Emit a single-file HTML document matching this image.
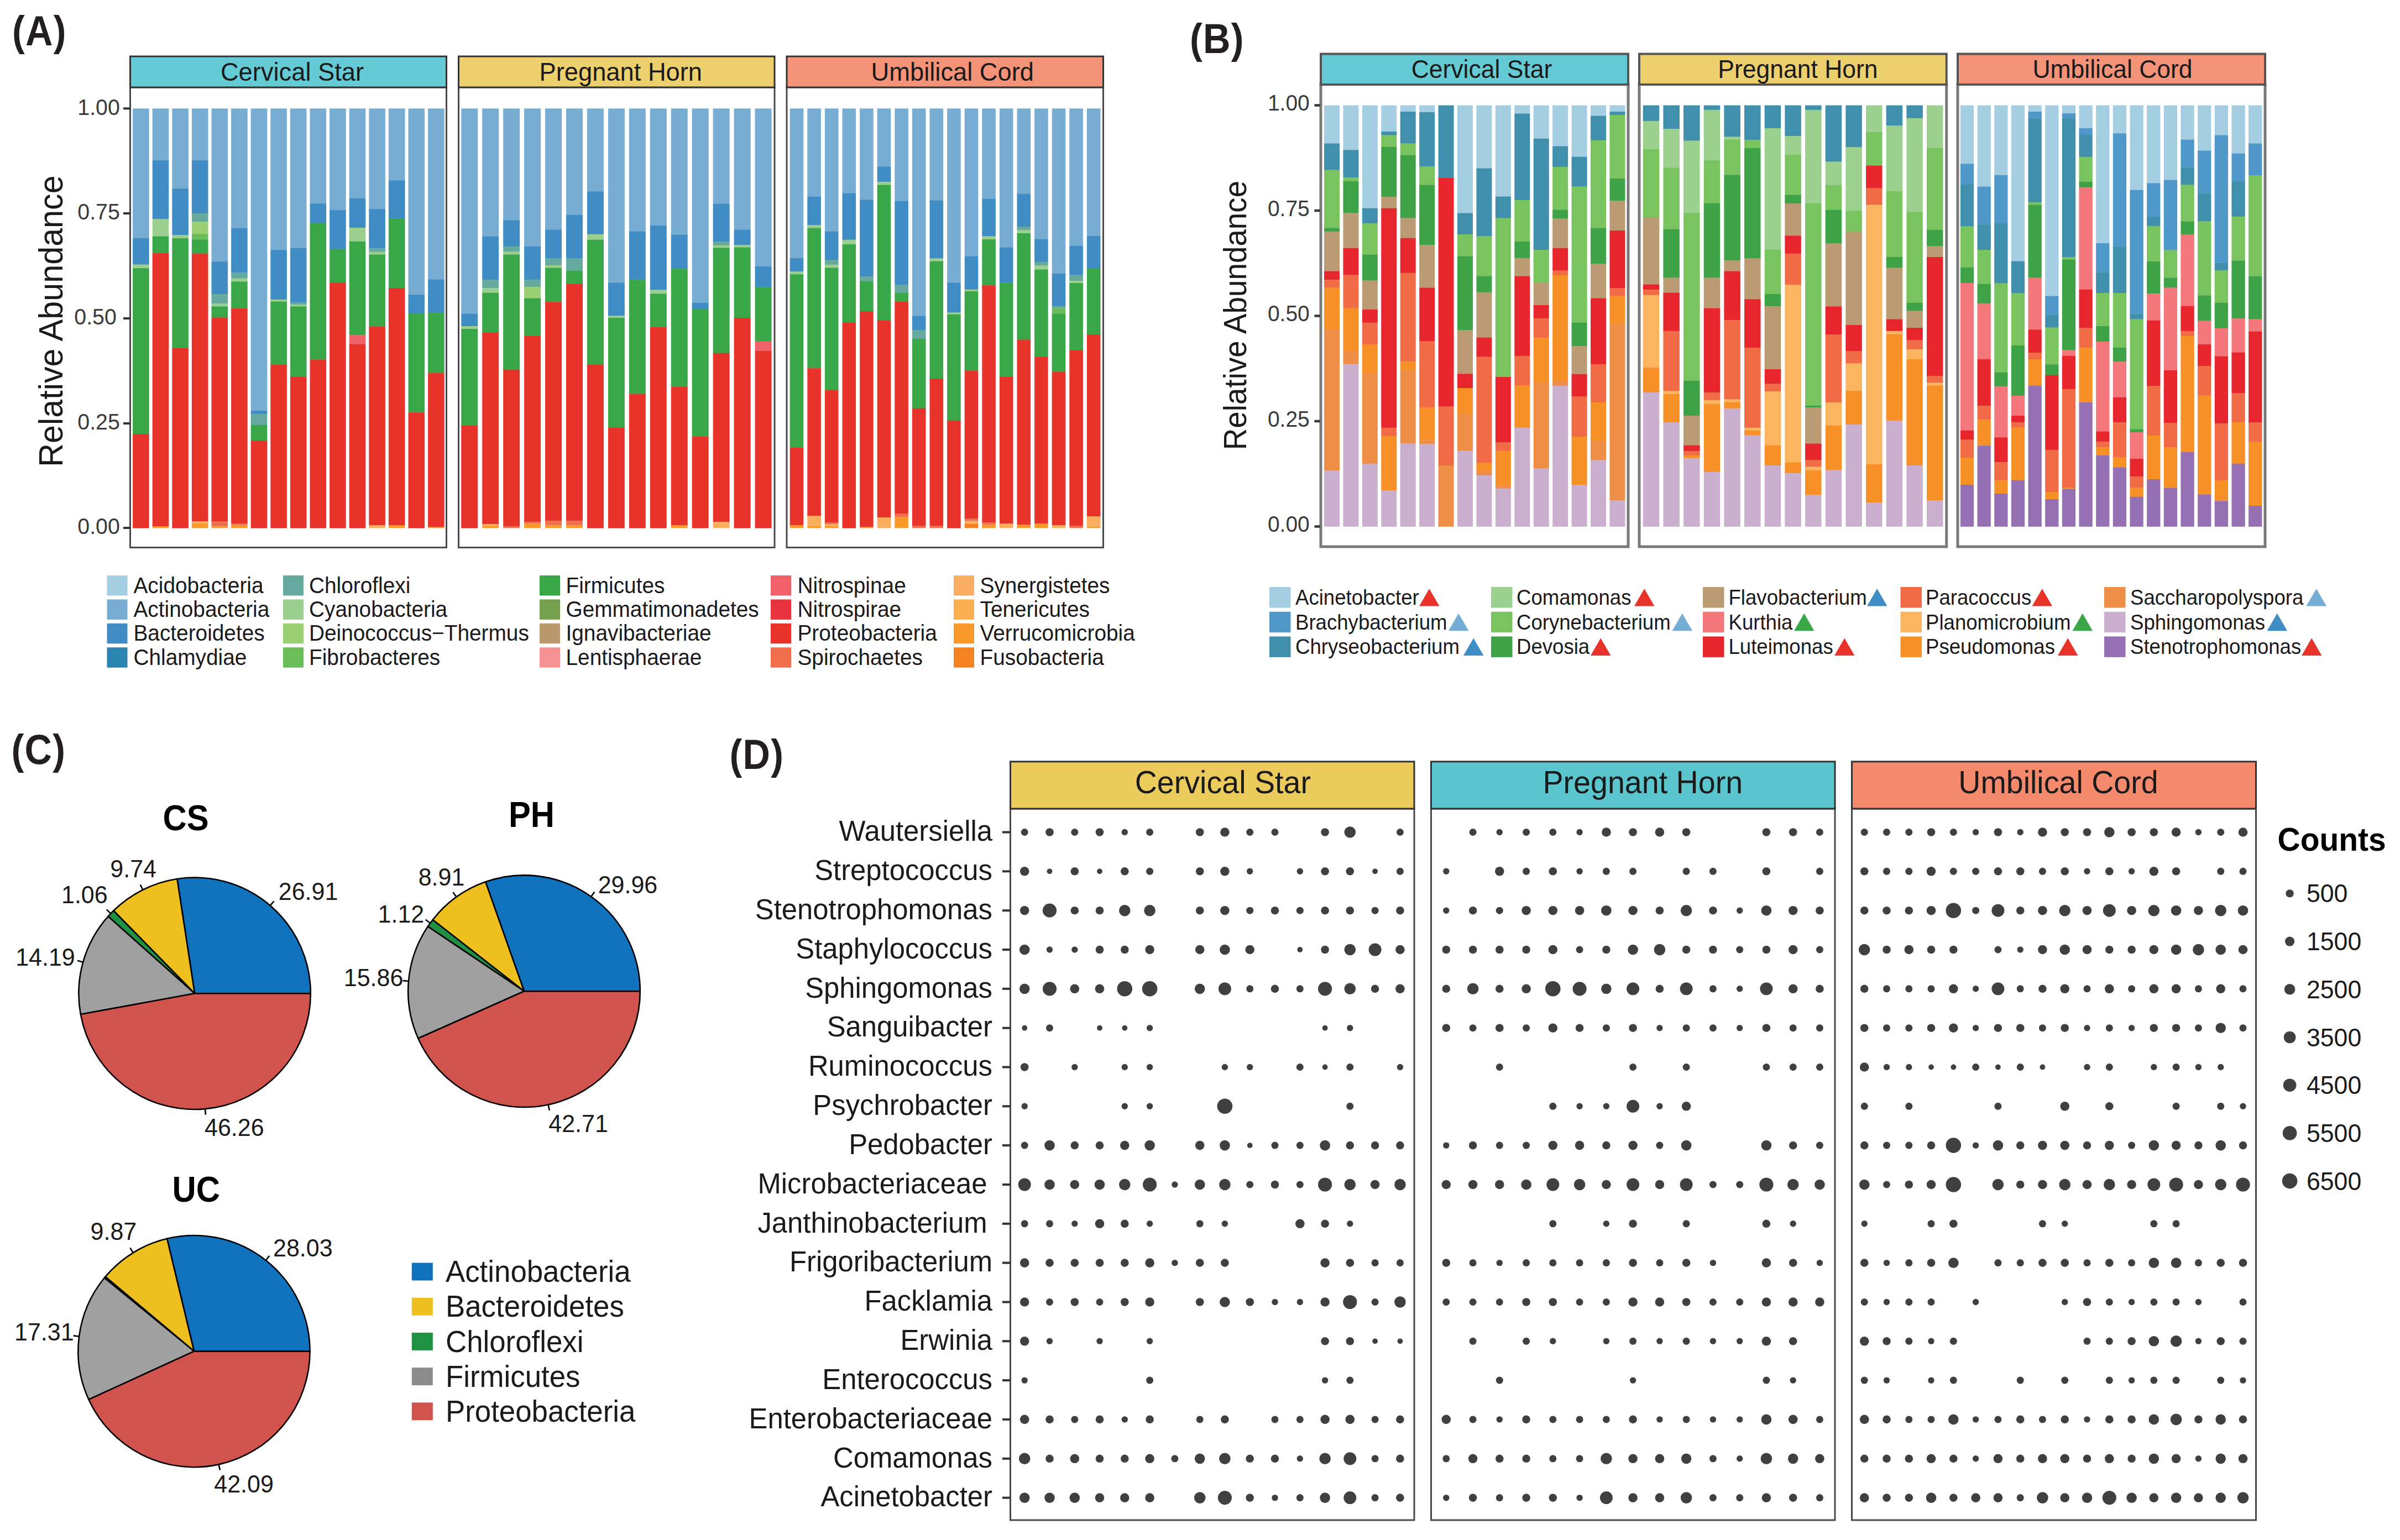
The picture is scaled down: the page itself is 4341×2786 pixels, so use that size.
<!DOCTYPE html>
<html><head><meta charset="utf-8"><title>Figure</title>
<style>html,body{margin:0;padding:0;background:#fff}svg{display:block}</style></head>
<body>
<svg width="4341" height="2786" viewBox="0 0 4341 2786" font-family="'Liberation Sans', sans-serif">
<rect width="4341" height="2786" fill="#ffffff"/>
<text transform="translate(22,81.7)  scale(0.9,1)" font-size="76" letter-spacing="1.5" font-weight="bold" fill="#231f20">(A)</text>
<rect x="240.10" y="196.30" width="29.60" height="234.60" fill="#77ADD2"/>
<rect x="240.10" y="430.60" width="29.60" height="48.30" fill="#3F8DC4"/>
<rect x="240.10" y="478.60" width="29.60" height="6.80" fill="#9BCF90"/>
<rect x="240.10" y="485.10" width="29.60" height="300.20" fill="#39A648"/>
<rect x="240.10" y="785.00" width="29.60" height="170.60" fill="#E7332A"/>
<rect x="275.70" y="196.30" width="29.60" height="94.10" fill="#77ADD2"/>
<rect x="275.70" y="290.10" width="29.60" height="106.55" fill="#3F8DC4"/>
<rect x="275.70" y="396.35" width="29.60" height="31.55" fill="#9BCF90"/>
<rect x="275.70" y="427.60" width="29.60" height="30.80" fill="#39A648"/>
<rect x="275.70" y="458.10" width="29.60" height="494.50" fill="#E7332A"/>
<rect x="275.70" y="952.30" width="29.60" height="3.00" fill="#F8992A"/>
<rect x="311.30" y="196.30" width="29.60" height="145.10" fill="#77ADD2"/>
<rect x="311.30" y="341.10" width="29.60" height="84.30" fill="#3F8DC4"/>
<rect x="311.30" y="425.10" width="29.60" height="6.30" fill="#9BCF90"/>
<rect x="311.30" y="431.10" width="29.60" height="198.45" fill="#39A648"/>
<rect x="311.30" y="629.25" width="29.60" height="326.35" fill="#E7332A"/>
<rect x="346.90" y="196.30" width="29.60" height="94.10" fill="#77ADD2"/>
<rect x="346.90" y="290.10" width="29.60" height="96.30" fill="#3F8DC4"/>
<rect x="346.90" y="386.10" width="29.60" height="15.30" fill="#66A99F"/>
<rect x="346.90" y="401.10" width="29.60" height="22.30" fill="#9ACF72"/>
<rect x="346.90" y="423.10" width="29.60" height="10.80" fill="#6ABD58"/>
<rect x="346.90" y="433.60" width="29.60" height="25.30" fill="#39A648"/>
<rect x="346.90" y="458.60" width="29.60" height="485.00" fill="#E7332A"/>
<rect x="346.90" y="946.30" width="29.60" height="9.00" fill="#F8992A"/>
<rect x="346.90" y="943.30" width="29.60" height="3.00" fill="#FBAE5E"/>
<rect x="382.50" y="196.30" width="29.60" height="277.10" fill="#77ADD2"/>
<rect x="382.50" y="473.10" width="29.60" height="59.05" fill="#3F8DC4"/>
<rect x="382.50" y="531.85" width="29.60" height="17.80" fill="#66A99F"/>
<rect x="382.50" y="549.35" width="29.60" height="5.30" fill="#9BCF90"/>
<rect x="382.50" y="554.35" width="29.60" height="20.45" fill="#39A648"/>
<rect x="382.50" y="574.50" width="29.60" height="369.10" fill="#E7332A"/>
<rect x="382.50" y="952.30" width="29.60" height="3.00" fill="#F8992A"/>
<rect x="382.50" y="943.30" width="29.60" height="9.00" fill="#F26F4D"/>
<rect x="418.10" y="196.30" width="29.60" height="216.60" fill="#77ADD2"/>
<rect x="418.10" y="412.60" width="29.60" height="80.80" fill="#3F8DC4"/>
<rect x="418.10" y="493.10" width="29.60" height="10.80" fill="#66A99F"/>
<rect x="418.10" y="503.60" width="29.60" height="6.05" fill="#9BCF90"/>
<rect x="418.10" y="509.35" width="29.60" height="49.05" fill="#39A648"/>
<rect x="418.10" y="558.10" width="29.60" height="389.50" fill="#E7332A"/>
<rect x="418.10" y="950.30" width="29.60" height="5.00" fill="#F8992A"/>
<rect x="418.10" y="947.30" width="29.60" height="3.00" fill="#F26F4D"/>
<rect x="453.70" y="196.30" width="29.60" height="547.00" fill="#77ADD2"/>
<rect x="453.70" y="743.00" width="29.60" height="6.05" fill="#3F8DC4"/>
<rect x="453.70" y="748.75" width="29.60" height="20.30" fill="#66A99F"/>
<rect x="453.70" y="768.75" width="29.60" height="28.55" fill="#39A648"/>
<rect x="453.70" y="797.00" width="29.60" height="158.60" fill="#E7332A"/>
<rect x="489.30" y="196.30" width="29.60" height="256.10" fill="#77ADD2"/>
<rect x="489.30" y="452.10" width="29.60" height="90.05" fill="#3F8DC4"/>
<rect x="489.30" y="541.85" width="29.60" height="4.05" fill="#9BCF90"/>
<rect x="489.30" y="545.60" width="29.60" height="114.20" fill="#39A648"/>
<rect x="489.30" y="659.50" width="29.60" height="296.10" fill="#E7332A"/>
<rect x="524.90" y="196.30" width="29.60" height="252.60" fill="#77ADD2"/>
<rect x="524.90" y="448.60" width="29.60" height="98.55" fill="#3F8DC4"/>
<rect x="524.90" y="546.85" width="29.60" height="4.55" fill="#66A99F"/>
<rect x="524.90" y="551.10" width="29.60" height="3.55" fill="#9BCF90"/>
<rect x="524.90" y="554.35" width="29.60" height="127.20" fill="#39A648"/>
<rect x="524.90" y="681.25" width="29.60" height="274.35" fill="#E7332A"/>
<rect x="560.50" y="196.30" width="29.60" height="172.10" fill="#77ADD2"/>
<rect x="560.50" y="368.10" width="29.60" height="35.30" fill="#3F8DC4"/>
<rect x="560.50" y="403.10" width="29.60" height="247.70" fill="#39A648"/>
<rect x="560.50" y="650.50" width="29.60" height="305.10" fill="#E7332A"/>
<rect x="596.10" y="196.30" width="29.60" height="184.10" fill="#77ADD2"/>
<rect x="596.10" y="380.10" width="29.60" height="70.80" fill="#3F8DC4"/>
<rect x="596.10" y="450.60" width="29.60" height="61.55" fill="#39A648"/>
<rect x="596.10" y="511.85" width="29.60" height="443.75" fill="#E7332A"/>
<rect x="631.70" y="196.30" width="29.60" height="162.85" fill="#77ADD2"/>
<rect x="631.70" y="358.85" width="29.60" height="53.30" fill="#3F8DC4"/>
<rect x="631.70" y="411.85" width="29.60" height="25.30" fill="#9BCF90"/>
<rect x="631.70" y="436.85" width="29.60" height="169.70" fill="#39A648"/>
<rect x="631.70" y="606.25" width="29.60" height="16.55" fill="#F0616A"/>
<rect x="631.70" y="622.50" width="29.60" height="333.10" fill="#E7332A"/>
<rect x="667.30" y="196.30" width="29.60" height="182.10" fill="#77ADD2"/>
<rect x="667.30" y="378.10" width="29.60" height="71.55" fill="#3F8DC4"/>
<rect x="667.30" y="449.35" width="29.60" height="6.55" fill="#66A99F"/>
<rect x="667.30" y="455.60" width="29.60" height="5.30" fill="#9BCF90"/>
<rect x="667.30" y="460.60" width="29.60" height="130.20" fill="#39A648"/>
<rect x="667.30" y="590.50" width="29.60" height="360.10" fill="#E7332A"/>
<rect x="667.30" y="950.30" width="29.60" height="5.00" fill="#FBAE5E"/>
<rect x="702.90" y="196.30" width="29.60" height="130.10" fill="#77ADD2"/>
<rect x="702.90" y="326.10" width="29.60" height="69.30" fill="#3F8DC4"/>
<rect x="702.90" y="395.10" width="29.60" height="126.30" fill="#39A648"/>
<rect x="702.90" y="521.10" width="29.60" height="429.50" fill="#E7332A"/>
<rect x="702.90" y="950.30" width="29.60" height="5.00" fill="#F8992A"/>
<rect x="738.50" y="196.30" width="29.60" height="337.10" fill="#77ADD2"/>
<rect x="738.50" y="533.10" width="29.60" height="34.05" fill="#3F8DC4"/>
<rect x="738.50" y="566.85" width="29.60" height="179.70" fill="#39A648"/>
<rect x="738.50" y="746.25" width="29.60" height="209.35" fill="#E7332A"/>
<rect x="774.10" y="196.30" width="29.60" height="309.60" fill="#77ADD2"/>
<rect x="774.10" y="505.60" width="29.60" height="60.80" fill="#3F8DC4"/>
<rect x="774.10" y="566.10" width="29.60" height="108.70" fill="#39A648"/>
<rect x="774.10" y="674.50" width="29.60" height="279.10" fill="#E7332A"/>
<rect x="774.10" y="953.30" width="29.60" height="2.00" fill="#F8992A"/>
<rect x="235.5" y="158" width="572.0" height="832.5" fill="none" stroke="#4a4a4a" stroke-width="3"/>
<rect x="235.5" y="102" width="572.0" height="56" fill="#64CBD4" stroke="#333" stroke-width="3"/>
<text transform="translate(528.5,145.5) scale(0.965,1)" font-size="46.94" text-anchor="middle" font-weight="normal" fill="#1a1a1a">Cervical Star</text>
<rect x="834.25" y="196.30" width="30.00" height="371.50" fill="#77ADD2"/>
<rect x="834.25" y="567.50" width="30.00" height="22.80" fill="#3F8DC4"/>
<rect x="834.25" y="590.00" width="30.00" height="5.30" fill="#9BCF90"/>
<rect x="834.25" y="595.00" width="30.00" height="175.30" fill="#39A648"/>
<rect x="834.25" y="770.00" width="30.00" height="185.60" fill="#E7332A"/>
<rect x="872.20" y="196.30" width="30.00" height="231.50" fill="#77ADD2"/>
<rect x="872.20" y="427.50" width="30.00" height="79.05" fill="#3F8DC4"/>
<rect x="872.20" y="506.25" width="30.00" height="15.30" fill="#66A99F"/>
<rect x="872.20" y="521.25" width="30.00" height="8.55" fill="#9BCF90"/>
<rect x="872.20" y="529.50" width="30.00" height="72.55" fill="#39A648"/>
<rect x="872.20" y="601.75" width="30.00" height="346.85" fill="#E7332A"/>
<rect x="872.20" y="951.30" width="30.00" height="4.00" fill="#F8992A"/>
<rect x="872.20" y="948.30" width="30.00" height="3.00" fill="#FBAE5E"/>
<rect x="910.15" y="196.30" width="30.00" height="202.25" fill="#77ADD2"/>
<rect x="910.15" y="398.25" width="30.00" height="47.80" fill="#3F8DC4"/>
<rect x="910.15" y="445.75" width="30.00" height="9.55" fill="#66A99F"/>
<rect x="910.15" y="455.00" width="30.00" height="5.80" fill="#9BCF90"/>
<rect x="910.15" y="460.50" width="30.00" height="208.55" fill="#39A648"/>
<rect x="910.15" y="668.75" width="30.00" height="283.85" fill="#E7332A"/>
<rect x="910.15" y="952.30" width="30.00" height="3.00" fill="#F26F4D"/>
<rect x="948.10" y="196.30" width="30.00" height="249.50" fill="#77ADD2"/>
<rect x="948.10" y="445.50" width="30.00" height="60.55" fill="#3F8DC4"/>
<rect x="948.10" y="505.75" width="30.00" height="13.30" fill="#66A99F"/>
<rect x="948.10" y="518.75" width="30.00" height="21.05" fill="#9ACF72"/>
<rect x="948.10" y="539.50" width="30.00" height="68.80" fill="#39A648"/>
<rect x="948.10" y="608.00" width="30.00" height="336.60" fill="#E7332A"/>
<rect x="948.10" y="947.30" width="30.00" height="8.00" fill="#F8992A"/>
<rect x="948.10" y="944.30" width="30.00" height="3.00" fill="#F26F4D"/>
<rect x="986.05" y="196.30" width="30.00" height="219.50" fill="#77ADD2"/>
<rect x="986.05" y="415.50" width="30.00" height="52.30" fill="#3F8DC4"/>
<rect x="986.05" y="467.50" width="30.00" height="12.80" fill="#66A99F"/>
<rect x="986.05" y="480.00" width="30.00" height="4.80" fill="#9BCF90"/>
<rect x="986.05" y="484.50" width="30.00" height="62.05" fill="#39A648"/>
<rect x="986.05" y="546.25" width="30.00" height="396.35" fill="#E7332A"/>
<rect x="986.05" y="950.30" width="30.00" height="5.00" fill="#F8992A"/>
<rect x="986.05" y="942.30" width="30.00" height="8.00" fill="#F26F4D"/>
<rect x="1024.00" y="196.30" width="30.00" height="192.75" fill="#77ADD2"/>
<rect x="1024.00" y="388.75" width="30.00" height="79.05" fill="#3F8DC4"/>
<rect x="1024.00" y="467.50" width="30.00" height="22.30" fill="#66A99F"/>
<rect x="1024.00" y="489.50" width="30.00" height="24.55" fill="#39A648"/>
<rect x="1024.00" y="513.75" width="30.00" height="428.85" fill="#E7332A"/>
<rect x="1024.00" y="950.30" width="30.00" height="5.00" fill="#F8992A"/>
<rect x="1024.00" y="942.30" width="30.00" height="8.00" fill="#F26F4D"/>
<rect x="1061.95" y="196.30" width="30.00" height="150.25" fill="#77ADD2"/>
<rect x="1061.95" y="346.25" width="30.00" height="77.80" fill="#3F8DC4"/>
<rect x="1061.95" y="423.75" width="30.00" height="10.30" fill="#9BCF90"/>
<rect x="1061.95" y="433.75" width="30.00" height="226.55" fill="#39A648"/>
<rect x="1061.95" y="660.00" width="30.00" height="295.60" fill="#E7332A"/>
<rect x="1099.90" y="196.30" width="30.00" height="315.25" fill="#77ADD2"/>
<rect x="1099.90" y="511.25" width="30.00" height="60.30" fill="#3F8DC4"/>
<rect x="1099.90" y="571.25" width="30.00" height="4.05" fill="#9BCF90"/>
<rect x="1099.90" y="575.00" width="30.00" height="199.05" fill="#39A648"/>
<rect x="1099.90" y="773.75" width="30.00" height="181.85" fill="#E7332A"/>
<rect x="1137.85" y="196.30" width="30.00" height="222.75" fill="#77ADD2"/>
<rect x="1137.85" y="418.75" width="30.00" height="87.80" fill="#3F8DC4"/>
<rect x="1137.85" y="506.25" width="30.00" height="206.55" fill="#39A648"/>
<rect x="1137.85" y="712.50" width="30.00" height="243.10" fill="#E7332A"/>
<rect x="1175.80" y="196.30" width="30.00" height="212.00" fill="#77ADD2"/>
<rect x="1175.80" y="408.00" width="30.00" height="116.80" fill="#3F8DC4"/>
<rect x="1175.80" y="524.50" width="30.00" height="7.05" fill="#9BCF90"/>
<rect x="1175.80" y="531.25" width="30.00" height="61.05" fill="#39A648"/>
<rect x="1175.80" y="592.00" width="30.00" height="363.60" fill="#E7332A"/>
<rect x="1213.75" y="196.30" width="30.00" height="228.50" fill="#77ADD2"/>
<rect x="1213.75" y="424.50" width="30.00" height="62.05" fill="#3F8DC4"/>
<rect x="1213.75" y="486.25" width="30.00" height="214.05" fill="#39A648"/>
<rect x="1213.75" y="700.00" width="30.00" height="250.60" fill="#E7332A"/>
<rect x="1213.75" y="950.30" width="30.00" height="5.00" fill="#F8992A"/>
<rect x="1251.70" y="196.30" width="30.00" height="351.50" fill="#77ADD2"/>
<rect x="1251.70" y="547.50" width="30.00" height="11.55" fill="#3F8DC4"/>
<rect x="1251.70" y="558.75" width="30.00" height="231.05" fill="#39A648"/>
<rect x="1251.70" y="789.50" width="30.00" height="166.10" fill="#E7332A"/>
<rect x="1289.65" y="196.30" width="30.00" height="172.75" fill="#77ADD2"/>
<rect x="1289.65" y="368.75" width="30.00" height="68.55" fill="#3F8DC4"/>
<rect x="1289.65" y="437.00" width="30.00" height="7.05" fill="#66A99F"/>
<rect x="1289.65" y="443.75" width="30.00" height="4.80" fill="#9BCF90"/>
<rect x="1289.65" y="448.25" width="30.00" height="190.80" fill="#39A648"/>
<rect x="1289.65" y="638.75" width="30.00" height="305.85" fill="#E7332A"/>
<rect x="1289.65" y="944.30" width="30.00" height="11.00" fill="#FBAE5E"/>
<rect x="1327.60" y="196.30" width="30.00" height="219.50" fill="#77ADD2"/>
<rect x="1327.60" y="415.50" width="30.00" height="27.80" fill="#3F8DC4"/>
<rect x="1327.60" y="443.00" width="30.00" height="4.80" fill="#9BCF90"/>
<rect x="1327.60" y="447.50" width="30.00" height="127.80" fill="#39A648"/>
<rect x="1327.60" y="575.00" width="30.00" height="380.60" fill="#E7332A"/>
<rect x="1365.55" y="196.30" width="30.00" height="286.00" fill="#77ADD2"/>
<rect x="1365.55" y="482.00" width="30.00" height="37.80" fill="#3F8DC4"/>
<rect x="1365.55" y="519.50" width="30.00" height="97.80" fill="#39A648"/>
<rect x="1365.55" y="617.00" width="30.00" height="17.80" fill="#F0616A"/>
<rect x="1365.55" y="634.50" width="30.00" height="321.10" fill="#E7332A"/>
<rect x="829.5" y="158" width="571.5" height="832.5" fill="none" stroke="#4a4a4a" stroke-width="3"/>
<rect x="829.5" y="102" width="571.5" height="56" fill="#EDD06E" stroke="#333" stroke-width="3"/>
<text transform="translate(1122.8,145.5) scale(0.965,1)" font-size="46.94" text-anchor="middle" font-weight="normal" fill="#1a1a1a">Pregnant Horn</text>
<rect x="1428.70" y="196.30" width="24.60" height="271.00" fill="#77ADD2"/>
<rect x="1428.70" y="467.00" width="24.60" height="24.55" fill="#3F8DC4"/>
<rect x="1428.70" y="491.25" width="24.60" height="5.30" fill="#9BCF90"/>
<rect x="1428.70" y="496.25" width="24.60" height="313.55" fill="#39A648"/>
<rect x="1428.70" y="809.50" width="24.60" height="141.10" fill="#E7332A"/>
<rect x="1428.70" y="950.30" width="24.60" height="5.00" fill="#F8992A"/>
<rect x="1460.30" y="196.30" width="24.60" height="159.75" fill="#77ADD2"/>
<rect x="1460.30" y="355.75" width="24.60" height="51.55" fill="#3F8DC4"/>
<rect x="1460.30" y="407.00" width="24.60" height="5.80" fill="#9BCF90"/>
<rect x="1460.30" y="412.50" width="24.60" height="254.05" fill="#39A648"/>
<rect x="1460.30" y="666.25" width="24.60" height="267.35" fill="#E7332A"/>
<rect x="1460.30" y="951.30" width="24.60" height="4.00" fill="#F8992A"/>
<rect x="1460.30" y="933.30" width="24.60" height="18.00" fill="#FBAE5E"/>
<rect x="1491.90" y="196.30" width="24.60" height="222.75" fill="#77ADD2"/>
<rect x="1491.90" y="418.75" width="24.60" height="51.55" fill="#3F8DC4"/>
<rect x="1491.90" y="470.00" width="24.60" height="9.05" fill="#66A99F"/>
<rect x="1491.90" y="478.75" width="24.60" height="6.05" fill="#9BCF90"/>
<rect x="1491.90" y="484.50" width="24.60" height="221.30" fill="#39A648"/>
<rect x="1491.90" y="705.50" width="24.60" height="240.10" fill="#E7332A"/>
<rect x="1491.90" y="951.30" width="24.60" height="4.00" fill="#F8992A"/>
<rect x="1491.90" y="948.30" width="24.60" height="3.00" fill="#FBAE5E"/>
<rect x="1491.90" y="945.30" width="24.60" height="3.00" fill="#F26F4D"/>
<rect x="1523.50" y="196.30" width="24.60" height="153.50" fill="#77ADD2"/>
<rect x="1523.50" y="349.50" width="24.60" height="84.55" fill="#3F8DC4"/>
<rect x="1523.50" y="433.75" width="24.60" height="8.55" fill="#9BCF90"/>
<rect x="1523.50" y="442.00" width="24.60" height="142.05" fill="#39A648"/>
<rect x="1523.50" y="583.75" width="24.60" height="371.85" fill="#E7332A"/>
<rect x="1555.10" y="196.30" width="24.60" height="165.25" fill="#77ADD2"/>
<rect x="1555.10" y="361.25" width="24.60" height="139.05" fill="#3F8DC4"/>
<rect x="1555.10" y="500.00" width="24.60" height="9.05" fill="#66A99F"/>
<rect x="1555.10" y="508.75" width="24.60" height="54.55" fill="#39A648"/>
<rect x="1555.10" y="563.00" width="24.60" height="390.60" fill="#E7332A"/>
<rect x="1555.10" y="953.30" width="24.60" height="2.00" fill="#F8992A"/>
<rect x="1586.70" y="196.30" width="24.60" height="105.25" fill="#77ADD2"/>
<rect x="1586.70" y="301.25" width="24.60" height="27.80" fill="#3F8DC4"/>
<rect x="1586.70" y="328.75" width="24.60" height="6.05" fill="#9BCF90"/>
<rect x="1586.70" y="334.50" width="24.60" height="245.30" fill="#39A648"/>
<rect x="1586.70" y="579.50" width="24.60" height="357.10" fill="#E7332A"/>
<rect x="1586.70" y="936.30" width="24.60" height="19.00" fill="#FBAE5E"/>
<rect x="1618.30" y="196.30" width="24.60" height="167.75" fill="#77ADD2"/>
<rect x="1618.30" y="363.75" width="24.60" height="151.55" fill="#3F8DC4"/>
<rect x="1618.30" y="515.00" width="24.60" height="14.80" fill="#66A99F"/>
<rect x="1618.30" y="529.50" width="24.60" height="16.30" fill="#39A648"/>
<rect x="1618.30" y="545.50" width="24.60" height="384.10" fill="#E7332A"/>
<rect x="1618.30" y="935.30" width="24.60" height="20.00" fill="#F8992A"/>
<rect x="1618.30" y="929.30" width="24.60" height="6.00" fill="#F26F4D"/>
<rect x="1649.90" y="196.30" width="24.60" height="375.25" fill="#77ADD2"/>
<rect x="1649.90" y="571.25" width="24.60" height="26.55" fill="#3F8DC4"/>
<rect x="1649.90" y="597.50" width="24.60" height="15.80" fill="#66A99F"/>
<rect x="1649.90" y="613.00" width="24.60" height="126.05" fill="#39A648"/>
<rect x="1649.90" y="738.75" width="24.60" height="212.85" fill="#E7332A"/>
<rect x="1649.90" y="951.30" width="24.60" height="4.00" fill="#F26F4D"/>
<rect x="1681.50" y="196.30" width="24.60" height="166.50" fill="#77ADD2"/>
<rect x="1681.50" y="362.50" width="24.60" height="105.30" fill="#3F8DC4"/>
<rect x="1681.50" y="467.50" width="24.60" height="5.30" fill="#9BCF90"/>
<rect x="1681.50" y="472.50" width="24.60" height="212.80" fill="#39A648"/>
<rect x="1681.50" y="685.00" width="24.60" height="266.60" fill="#E7332A"/>
<rect x="1681.50" y="951.30" width="24.60" height="4.00" fill="#F26F4D"/>
<rect x="1713.10" y="196.30" width="24.60" height="315.25" fill="#77ADD2"/>
<rect x="1713.10" y="511.25" width="24.60" height="54.55" fill="#3F8DC4"/>
<rect x="1713.10" y="565.50" width="24.60" height="3.55" fill="#9BCF90"/>
<rect x="1713.10" y="568.75" width="24.60" height="192.30" fill="#39A648"/>
<rect x="1713.10" y="760.75" width="24.60" height="194.85" fill="#E7332A"/>
<rect x="1744.70" y="196.30" width="24.60" height="267.75" fill="#77ADD2"/>
<rect x="1744.70" y="463.75" width="24.60" height="60.30" fill="#3F8DC4"/>
<rect x="1744.70" y="523.75" width="24.60" height="3.55" fill="#9BCF90"/>
<rect x="1744.70" y="527.00" width="24.60" height="143.80" fill="#39A648"/>
<rect x="1744.70" y="670.50" width="24.60" height="268.10" fill="#E7332A"/>
<rect x="1744.70" y="947.30" width="24.60" height="8.00" fill="#F58220"/>
<rect x="1744.70" y="942.30" width="24.60" height="5.00" fill="#FBAE5E"/>
<rect x="1744.70" y="938.30" width="24.60" height="4.00" fill="#F26F4D"/>
<rect x="1776.30" y="196.30" width="24.60" height="163.50" fill="#77ADD2"/>
<rect x="1776.30" y="359.50" width="24.60" height="68.30" fill="#3F8DC4"/>
<rect x="1776.30" y="427.50" width="24.60" height="5.80" fill="#9BCF90"/>
<rect x="1776.30" y="433.00" width="24.60" height="83.55" fill="#39A648"/>
<rect x="1776.30" y="516.25" width="24.60" height="429.35" fill="#E7332A"/>
<rect x="1776.30" y="949.30" width="24.60" height="6.00" fill="#F8992A"/>
<rect x="1776.30" y="945.30" width="24.60" height="4.00" fill="#F26F4D"/>
<rect x="1807.90" y="196.30" width="24.60" height="251.50" fill="#77ADD2"/>
<rect x="1807.90" y="447.50" width="24.60" height="64.05" fill="#3F8DC4"/>
<rect x="1807.90" y="511.25" width="24.60" height="170.80" fill="#39A648"/>
<rect x="1807.90" y="681.75" width="24.60" height="265.85" fill="#E7332A"/>
<rect x="1807.90" y="947.30" width="24.60" height="8.00" fill="#FBAE5E"/>
<rect x="1839.50" y="196.30" width="24.60" height="154.50" fill="#77ADD2"/>
<rect x="1839.50" y="350.50" width="24.60" height="59.80" fill="#3F8DC4"/>
<rect x="1839.50" y="410.00" width="24.60" height="6.55" fill="#66A99F"/>
<rect x="1839.50" y="416.25" width="24.60" height="6.05" fill="#9BCF90"/>
<rect x="1839.50" y="422.00" width="24.60" height="192.80" fill="#39A648"/>
<rect x="1839.50" y="614.50" width="24.60" height="335.10" fill="#E7332A"/>
<rect x="1839.50" y="949.30" width="24.60" height="6.00" fill="#F8992A"/>
<rect x="1871.10" y="196.30" width="24.60" height="236.50" fill="#77ADD2"/>
<rect x="1871.10" y="432.50" width="24.60" height="41.55" fill="#3F8DC4"/>
<rect x="1871.10" y="473.75" width="24.60" height="7.05" fill="#66A99F"/>
<rect x="1871.10" y="480.50" width="24.60" height="7.30" fill="#9BCF90"/>
<rect x="1871.10" y="487.50" width="24.60" height="158.55" fill="#39A648"/>
<rect x="1871.10" y="645.75" width="24.60" height="301.85" fill="#E7332A"/>
<rect x="1871.10" y="947.30" width="24.60" height="8.00" fill="#F8992A"/>
<rect x="1902.70" y="196.30" width="24.60" height="299.00" fill="#77ADD2"/>
<rect x="1902.70" y="495.00" width="24.60" height="59.05" fill="#3F8DC4"/>
<rect x="1902.70" y="553.75" width="24.60" height="4.05" fill="#66A99F"/>
<rect x="1902.70" y="557.50" width="24.60" height="10.30" fill="#6ABD58"/>
<rect x="1902.70" y="567.50" width="24.60" height="105.30" fill="#39A648"/>
<rect x="1902.70" y="672.50" width="24.60" height="278.10" fill="#E7332A"/>
<rect x="1902.70" y="950.30" width="24.60" height="5.00" fill="#FBAE5E"/>
<rect x="1934.30" y="196.30" width="24.60" height="248.50" fill="#77ADD2"/>
<rect x="1934.30" y="444.50" width="24.60" height="53.30" fill="#3F8DC4"/>
<rect x="1934.30" y="497.50" width="24.60" height="10.80" fill="#66A99F"/>
<rect x="1934.30" y="508.00" width="24.60" height="4.30" fill="#9BCF90"/>
<rect x="1934.30" y="512.00" width="24.60" height="122.05" fill="#39A648"/>
<rect x="1934.30" y="633.75" width="24.60" height="317.85" fill="#E7332A"/>
<rect x="1934.30" y="951.30" width="24.60" height="4.00" fill="#F26F4D"/>
<rect x="1965.90" y="196.30" width="24.60" height="231.00" fill="#77ADD2"/>
<rect x="1965.90" y="427.00" width="24.60" height="58.30" fill="#3F8DC4"/>
<rect x="1965.90" y="485.00" width="24.60" height="120.30" fill="#39A648"/>
<rect x="1965.90" y="605.00" width="24.60" height="329.60" fill="#E7332A"/>
<rect x="1965.90" y="952.30" width="24.60" height="3.00" fill="#F8992A"/>
<rect x="1965.90" y="934.30" width="24.60" height="18.00" fill="#FBAE5E"/>
<rect x="1423" y="158" width="572.5" height="832.5" fill="none" stroke="#4a4a4a" stroke-width="3"/>
<rect x="1423" y="102" width="572.5" height="56" fill="#F49377" stroke="#333" stroke-width="3"/>
<text transform="translate(1722.8,145.5) scale(0.965,1)" font-size="46.94" text-anchor="middle" font-weight="normal" fill="#1a1a1a">Umbilical Cord</text>
<line x1="223" y1="196.3" x2="235" y2="196.3" stroke="#333" stroke-width="4"/>
<text transform="translate(216.8,207.6) scale(0.965,1)" font-size="40.73" text-anchor="end" font-weight="normal" fill="#3a3a3a">1.00</text>
<line x1="223" y1="386" x2="235" y2="386" stroke="#333" stroke-width="4"/>
<text transform="translate(216.8,397.3) scale(0.965,1)" font-size="40.73" text-anchor="end" font-weight="normal" fill="#3a3a3a">0.75</text>
<line x1="223" y1="576" x2="235" y2="576" stroke="#333" stroke-width="4"/>
<text transform="translate(210.8,587.3) scale(0.965,1)" font-size="40.73" text-anchor="end" font-weight="normal" fill="#3a3a3a">0.50</text>
<line x1="223" y1="766" x2="235" y2="766" stroke="#333" stroke-width="4"/>
<text transform="translate(216.8,777.3) scale(0.965,1)" font-size="40.73" text-anchor="end" font-weight="normal" fill="#3a3a3a">0.25</text>
<line x1="223" y1="955" x2="235" y2="955" stroke="#333" stroke-width="4"/>
<text transform="translate(216.8,966.3) scale(0.965,1)" font-size="40.73" text-anchor="end" font-weight="normal" fill="#3a3a3a">0.00</text>
<text transform="translate(113,581) rotate(-90) scale(0.965,1)" font-size="61.45" text-anchor="middle" fill="#1a1a1a">Relative Abundance</text>
<rect x="193.50" y="1041.00" width="37.00" height="36.50" fill="#A6CEE3"/>
<text transform="translate(241.5,1072.5) scale(0.965,1)" font-size="40.21" text-anchor="start" font-weight="normal" fill="#1a1a1a">Acidobacteria</text>
<rect x="193.50" y="1084.40" width="37.00" height="36.50" fill="#77ADD2"/>
<text transform="translate(241.5,1115.9) scale(0.965,1)" font-size="40.21" text-anchor="start" font-weight="normal" fill="#1a1a1a">Actinobacteria</text>
<rect x="193.50" y="1127.80" width="37.00" height="36.50" fill="#3F8DC4"/>
<text transform="translate(241.5,1159.3) scale(0.965,1)" font-size="40.21" text-anchor="start" font-weight="normal" fill="#1a1a1a">Bacteroidetes</text>
<rect x="193.50" y="1171.20" width="37.00" height="36.50" fill="#2C84B0"/>
<text transform="translate(241.5,1202.7) scale(0.965,1)" font-size="40.21" text-anchor="start" font-weight="normal" fill="#1a1a1a">Chlamydiae</text>
<rect x="512.00" y="1041.00" width="37.00" height="36.50" fill="#66A99F"/>
<text transform="translate(559.0,1072.5) scale(0.965,1)" font-size="40.21" text-anchor="start" font-weight="normal" fill="#1a1a1a">Chloroflexi</text>
<rect x="512.00" y="1084.40" width="37.00" height="36.50" fill="#9BCF90"/>
<text transform="translate(559.0,1115.9) scale(0.965,1)" font-size="40.21" text-anchor="start" font-weight="normal" fill="#1a1a1a">Cyanobacteria</text>
<rect x="512.00" y="1127.80" width="37.00" height="36.50" fill="#9ACF72"/>
<text transform="translate(559.0,1159.3) scale(0.965,1)" font-size="40.21" text-anchor="start" font-weight="normal" fill="#1a1a1a">Deinococcus−Thermus</text>
<rect x="512.00" y="1171.20" width="37.00" height="36.50" fill="#6ABD58"/>
<text transform="translate(559.0,1202.7) scale(0.965,1)" font-size="40.21" text-anchor="start" font-weight="normal" fill="#1a1a1a">Fibrobacteres</text>
<rect x="976.00" y="1041.00" width="37.00" height="36.50" fill="#39A648"/>
<text transform="translate(1023.5,1072.5) scale(0.965,1)" font-size="40.21" text-anchor="start" font-weight="normal" fill="#1a1a1a">Firmicutes</text>
<rect x="976.00" y="1084.40" width="37.00" height="36.50" fill="#76A04E"/>
<text transform="translate(1023.5,1115.9) scale(0.965,1)" font-size="40.21" text-anchor="start" font-weight="normal" fill="#1a1a1a">Gemmatimonadetes</text>
<rect x="976.00" y="1127.80" width="37.00" height="36.50" fill="#BA986E"/>
<text transform="translate(1023.5,1159.3) scale(0.965,1)" font-size="40.21" text-anchor="start" font-weight="normal" fill="#1a1a1a">Ignavibacteriae</text>
<rect x="976.00" y="1171.20" width="37.00" height="36.50" fill="#F69392"/>
<text transform="translate(1023.5,1202.7) scale(0.965,1)" font-size="40.21" text-anchor="start" font-weight="normal" fill="#1a1a1a">Lentisphaerae</text>
<rect x="1394.00" y="1041.00" width="37.00" height="36.50" fill="#F0616A"/>
<text transform="translate(1442.5,1072.5) scale(0.965,1)" font-size="40.21" text-anchor="start" font-weight="normal" fill="#1a1a1a">Nitrospinae</text>
<rect x="1394.00" y="1084.40" width="37.00" height="36.50" fill="#E9343F"/>
<text transform="translate(1442.5,1115.9) scale(0.965,1)" font-size="40.21" text-anchor="start" font-weight="normal" fill="#1a1a1a">Nitrospirae</text>
<rect x="1394.00" y="1127.80" width="37.00" height="36.50" fill="#E7332A"/>
<text transform="translate(1442.5,1159.3) scale(0.965,1)" font-size="40.21" text-anchor="start" font-weight="normal" fill="#1a1a1a">Proteobacteria</text>
<rect x="1394.00" y="1171.20" width="37.00" height="36.50" fill="#F26F4D"/>
<text transform="translate(1442.5,1202.7) scale(0.965,1)" font-size="40.21" text-anchor="start" font-weight="normal" fill="#1a1a1a">Spirochaetes</text>
<rect x="1725.00" y="1041.00" width="37.00" height="36.50" fill="#FBAD62"/>
<text transform="translate(1772.5,1072.5) scale(0.965,1)" font-size="40.21" text-anchor="start" font-weight="normal" fill="#1a1a1a">Synergistetes</text>
<rect x="1725.00" y="1084.40" width="37.00" height="36.50" fill="#FBAE50"/>
<text transform="translate(1772.5,1115.9) scale(0.965,1)" font-size="40.21" text-anchor="start" font-weight="normal" fill="#1a1a1a">Tenericutes</text>
<rect x="1725.00" y="1127.80" width="37.00" height="36.50" fill="#F8992A"/>
<text transform="translate(1772.5,1159.3) scale(0.965,1)" font-size="40.21" text-anchor="start" font-weight="normal" fill="#1a1a1a">Verrucomicrobia</text>
<rect x="1725.00" y="1171.20" width="37.00" height="36.50" fill="#F58220"/>
<text transform="translate(1772.5,1202.7) scale(0.965,1)" font-size="40.21" text-anchor="start" font-weight="normal" fill="#1a1a1a">Fusobacteria</text>
<text transform="translate(2152,95.8)  scale(0.9,1)" font-size="76" letter-spacing="1.5" font-weight="bold" fill="#231f20">(B)</text>
<rect x="2395.00" y="190.50" width="28.00" height="69.30" fill="#A6CEE3"/>
<rect x="2395.00" y="259.50" width="28.00" height="48.30" fill="#3F8FAD"/>
<rect x="2395.00" y="307.50" width="28.00" height="105.30" fill="#7AC45F"/>
<rect x="2395.00" y="412.50" width="28.00" height="6.55" fill="#3EA246"/>
<rect x="2395.00" y="418.75" width="28.00" height="72.05" fill="#BB9B73"/>
<rect x="2395.00" y="490.50" width="28.00" height="16.05" fill="#E6262C"/>
<rect x="2395.00" y="506.25" width="28.00" height="14.55" fill="#F16B47"/>
<rect x="2395.00" y="520.50" width="28.00" height="74.80" fill="#F79127"/>
<rect x="2395.00" y="595.00" width="28.00" height="256.55" fill="#EF8E46"/>
<rect x="2395.00" y="851.25" width="28.00" height="101.55" fill="#CBAFCF"/>
<rect x="2429.43" y="190.50" width="28.00" height="81.05" fill="#A6CEE3"/>
<rect x="2429.43" y="271.25" width="28.00" height="50.30" fill="#3F8FAD"/>
<rect x="2429.43" y="321.25" width="28.00" height="6.55" fill="#7AC45F"/>
<rect x="2429.43" y="327.50" width="28.00" height="58.30" fill="#3EA246"/>
<rect x="2429.43" y="385.50" width="28.00" height="63.55" fill="#BB9B73"/>
<rect x="2429.43" y="448.75" width="28.00" height="48.55" fill="#E6262C"/>
<rect x="2429.43" y="497.00" width="28.00" height="60.30" fill="#F16B47"/>
<rect x="2429.43" y="557.00" width="28.00" height="78.30" fill="#F79127"/>
<rect x="2429.43" y="635.00" width="28.00" height="24.05" fill="#EF8E46"/>
<rect x="2429.43" y="658.75" width="28.00" height="294.05" fill="#CBAFCF"/>
<rect x="2463.86" y="190.50" width="28.00" height="186.55" fill="#A6CEE3"/>
<rect x="2463.86" y="376.75" width="28.00" height="27.80" fill="#3F8FAD"/>
<rect x="2463.86" y="404.25" width="28.00" height="56.55" fill="#7AC45F"/>
<rect x="2463.86" y="460.50" width="28.00" height="47.30" fill="#3EA246"/>
<rect x="2463.86" y="507.50" width="28.00" height="52.80" fill="#BB9B73"/>
<rect x="2463.86" y="560.00" width="28.00" height="24.05" fill="#E6262C"/>
<rect x="2463.86" y="583.75" width="28.00" height="39.55" fill="#F16B47"/>
<rect x="2463.86" y="623.00" width="28.00" height="53.55" fill="#F79127"/>
<rect x="2463.86" y="676.25" width="28.00" height="162.80" fill="#EF8E46"/>
<rect x="2463.86" y="838.75" width="28.00" height="114.05" fill="#CBAFCF"/>
<rect x="2498.29" y="190.50" width="28.00" height="47.80" fill="#A6CEE3"/>
<rect x="2498.29" y="238.00" width="28.00" height="6.80" fill="#3F8FAD"/>
<rect x="2498.29" y="244.50" width="28.00" height="21.30" fill="#7AC45F"/>
<rect x="2498.29" y="265.50" width="28.00" height="90.55" fill="#3EA246"/>
<rect x="2498.29" y="355.75" width="28.00" height="21.30" fill="#BB9B73"/>
<rect x="2498.29" y="376.75" width="28.00" height="397.30" fill="#E6262C"/>
<rect x="2498.29" y="773.75" width="28.00" height="15.30" fill="#F16B47"/>
<rect x="2498.29" y="788.75" width="28.00" height="98.55" fill="#F79127"/>
<rect x="2498.29" y="887.00" width="28.00" height="65.80" fill="#CBAFCF"/>
<rect x="2532.72" y="190.50" width="28.00" height="11.80" fill="#A6CEE3"/>
<rect x="2532.72" y="202.00" width="28.00" height="57.80" fill="#3F8FAD"/>
<rect x="2532.72" y="259.50" width="28.00" height="21.30" fill="#7AC45F"/>
<rect x="2532.72" y="280.50" width="28.00" height="114.30" fill="#3EA246"/>
<rect x="2532.72" y="394.50" width="28.00" height="36.55" fill="#BB9B73"/>
<rect x="2532.72" y="430.75" width="28.00" height="63.30" fill="#E6262C"/>
<rect x="2532.72" y="493.75" width="28.00" height="160.80" fill="#F16B47"/>
<rect x="2532.72" y="654.25" width="28.00" height="16.55" fill="#F79127"/>
<rect x="2532.72" y="670.50" width="28.00" height="132.30" fill="#EF8E46"/>
<rect x="2532.72" y="802.50" width="28.00" height="150.30" fill="#CBAFCF"/>
<rect x="2567.15" y="190.50" width="28.00" height="12.80" fill="#A6CEE3"/>
<rect x="2567.15" y="203.00" width="28.00" height="98.55" fill="#3F8FAD"/>
<rect x="2567.15" y="301.25" width="28.00" height="33.55" fill="#7AC45F"/>
<rect x="2567.15" y="334.50" width="28.00" height="108.80" fill="#3EA246"/>
<rect x="2567.15" y="443.00" width="28.00" height="77.80" fill="#BB9B73"/>
<rect x="2567.15" y="520.50" width="28.00" height="96.80" fill="#E6262C"/>
<rect x="2567.15" y="617.00" width="28.00" height="120.30" fill="#F16B47"/>
<rect x="2567.15" y="737.00" width="28.00" height="59.55" fill="#F79127"/>
<rect x="2567.15" y="796.25" width="28.00" height="7.05" fill="#EF8E46"/>
<rect x="2567.15" y="803.00" width="28.00" height="149.80" fill="#CBAFCF"/>
<rect x="2601.58" y="190.50" width="28.00" height="131.80" fill="#3F8FAD"/>
<rect x="2601.58" y="322.00" width="28.00" height="413.30" fill="#E6262C"/>
<rect x="2601.58" y="735.00" width="28.00" height="107.30" fill="#F16B47"/>
<rect x="2601.58" y="842.00" width="28.00" height="110.80" fill="#EF8E46"/>
<rect x="2636.01" y="190.50" width="28.00" height="195.30" fill="#A6CEE3"/>
<rect x="2636.01" y="385.50" width="28.00" height="38.55" fill="#3F8FAD"/>
<rect x="2636.01" y="423.75" width="28.00" height="40.30" fill="#7AC45F"/>
<rect x="2636.01" y="463.75" width="28.00" height="133.55" fill="#3EA246"/>
<rect x="2636.01" y="597.00" width="28.00" height="79.55" fill="#BB9B73"/>
<rect x="2636.01" y="676.25" width="28.00" height="26.05" fill="#E6262C"/>
<rect x="2636.01" y="702.00" width="28.00" height="47.05" fill="#F79127"/>
<rect x="2636.01" y="748.75" width="28.00" height="67.05" fill="#EF8E46"/>
<rect x="2636.01" y="815.50" width="28.00" height="137.30" fill="#CBAFCF"/>
<rect x="2670.44" y="190.50" width="28.00" height="114.30" fill="#A6CEE3"/>
<rect x="2670.44" y="304.50" width="28.00" height="122.80" fill="#3F8FAD"/>
<rect x="2670.44" y="427.00" width="28.00" height="72.80" fill="#7AC45F"/>
<rect x="2670.44" y="499.50" width="28.00" height="29.55" fill="#3EA246"/>
<rect x="2670.44" y="528.75" width="28.00" height="82.30" fill="#BB9B73"/>
<rect x="2670.44" y="610.75" width="28.00" height="34.55" fill="#E6262C"/>
<rect x="2670.44" y="645.00" width="28.00" height="192.30" fill="#F16B47"/>
<rect x="2670.44" y="837.00" width="28.00" height="14.55" fill="#F79127"/>
<rect x="2670.44" y="851.25" width="28.00" height="9.05" fill="#EF8E46"/>
<rect x="2670.44" y="860.00" width="28.00" height="92.80" fill="#CBAFCF"/>
<rect x="2704.87" y="190.50" width="28.00" height="165.30" fill="#A6CEE3"/>
<rect x="2704.87" y="355.50" width="28.00" height="39.30" fill="#3F8FAD"/>
<rect x="2704.87" y="394.50" width="28.00" height="287.80" fill="#7AC45F"/>
<rect x="2704.87" y="682.00" width="28.00" height="118.80" fill="#E6262C"/>
<rect x="2704.87" y="800.50" width="28.00" height="15.30" fill="#F16B47"/>
<rect x="2704.87" y="815.50" width="28.00" height="62.30" fill="#F79127"/>
<rect x="2704.87" y="877.50" width="28.00" height="6.55" fill="#EF8E46"/>
<rect x="2704.87" y="883.75" width="28.00" height="69.05" fill="#CBAFCF"/>
<rect x="2739.30" y="190.50" width="28.00" height="15.30" fill="#A6CEE3"/>
<rect x="2739.30" y="205.50" width="28.00" height="156.55" fill="#3F8FAD"/>
<rect x="2739.30" y="361.75" width="28.00" height="75.55" fill="#7AC45F"/>
<rect x="2739.30" y="437.00" width="28.00" height="30.05" fill="#3EA246"/>
<rect x="2739.30" y="466.75" width="28.00" height="33.05" fill="#BB9B73"/>
<rect x="2739.30" y="499.50" width="28.00" height="144.55" fill="#E6262C"/>
<rect x="2739.30" y="643.75" width="28.00" height="54.05" fill="#F16B47"/>
<rect x="2739.30" y="697.50" width="28.00" height="76.55" fill="#F79127"/>
<rect x="2739.30" y="773.75" width="28.00" height="179.05" fill="#CBAFCF"/>
<rect x="2773.73" y="190.50" width="28.00" height="60.55" fill="#A6CEE3"/>
<rect x="2773.73" y="250.75" width="28.00" height="201.55" fill="#3F8FAD"/>
<rect x="2773.73" y="452.00" width="28.00" height="60.30" fill="#7AC45F"/>
<rect x="2773.73" y="512.00" width="28.00" height="40.30" fill="#BB9B73"/>
<rect x="2773.73" y="552.00" width="28.00" height="24.55" fill="#E6262C"/>
<rect x="2773.73" y="576.25" width="28.00" height="34.80" fill="#F16B47"/>
<rect x="2773.73" y="610.75" width="28.00" height="80.80" fill="#F79127"/>
<rect x="2773.73" y="691.25" width="28.00" height="156.55" fill="#EF8E46"/>
<rect x="2773.73" y="847.50" width="28.00" height="105.30" fill="#CBAFCF"/>
<rect x="2808.16" y="190.50" width="28.00" height="74.30" fill="#A6CEE3"/>
<rect x="2808.16" y="264.50" width="28.00" height="37.55" fill="#3F8FAD"/>
<rect x="2808.16" y="301.75" width="28.00" height="77.80" fill="#7AC45F"/>
<rect x="2808.16" y="379.25" width="28.00" height="16.55" fill="#3EA246"/>
<rect x="2808.16" y="395.50" width="28.00" height="53.55" fill="#BB9B73"/>
<rect x="2808.16" y="448.75" width="28.00" height="41.05" fill="#E6262C"/>
<rect x="2808.16" y="489.50" width="28.00" height="8.80" fill="#F16B47"/>
<rect x="2808.16" y="498.00" width="28.00" height="191.05" fill="#F79127"/>
<rect x="2808.16" y="688.75" width="28.00" height="9.55" fill="#EF8E46"/>
<rect x="2808.16" y="698.00" width="28.00" height="254.80" fill="#CBAFCF"/>
<rect x="2842.59" y="190.50" width="28.00" height="93.55" fill="#A6CEE3"/>
<rect x="2842.59" y="283.75" width="28.00" height="54.05" fill="#3F8FAD"/>
<rect x="2842.59" y="337.50" width="28.00" height="246.55" fill="#7AC45F"/>
<rect x="2842.59" y="583.75" width="28.00" height="42.80" fill="#3EA246"/>
<rect x="2842.59" y="626.25" width="28.00" height="50.80" fill="#BB9B73"/>
<rect x="2842.59" y="676.75" width="28.00" height="40.55" fill="#E6262C"/>
<rect x="2842.59" y="717.00" width="28.00" height="73.30" fill="#F16B47"/>
<rect x="2842.59" y="790.00" width="28.00" height="87.80" fill="#F79127"/>
<rect x="2842.59" y="877.50" width="28.00" height="75.30" fill="#CBAFCF"/>
<rect x="2877.02" y="190.50" width="28.00" height="19.30" fill="#A6CEE3"/>
<rect x="2877.02" y="209.50" width="28.00" height="44.55" fill="#3F8FAD"/>
<rect x="2877.02" y="253.75" width="28.00" height="159.05" fill="#7AC45F"/>
<rect x="2877.02" y="412.50" width="28.00" height="64.80" fill="#3EA246"/>
<rect x="2877.02" y="477.00" width="28.00" height="62.80" fill="#BB9B73"/>
<rect x="2877.02" y="539.50" width="28.00" height="119.55" fill="#E6262C"/>
<rect x="2877.02" y="658.75" width="28.00" height="69.55" fill="#F16B47"/>
<rect x="2877.02" y="728.00" width="28.00" height="70.30" fill="#F79127"/>
<rect x="2877.02" y="798.00" width="28.00" height="34.80" fill="#EF8E46"/>
<rect x="2877.02" y="832.50" width="28.00" height="120.30" fill="#CBAFCF"/>
<rect x="2911.45" y="190.50" width="28.00" height="11.80" fill="#A6CEE3"/>
<rect x="2911.45" y="202.00" width="28.00" height="6.30" fill="#3F8FAD"/>
<rect x="2911.45" y="208.00" width="28.00" height="115.30" fill="#7AC45F"/>
<rect x="2911.45" y="323.00" width="28.00" height="40.30" fill="#3EA246"/>
<rect x="2911.45" y="363.00" width="28.00" height="54.30" fill="#BB9B73"/>
<rect x="2911.45" y="417.00" width="28.00" height="104.55" fill="#E6262C"/>
<rect x="2911.45" y="521.25" width="28.00" height="14.05" fill="#F16B47"/>
<rect x="2911.45" y="535.00" width="28.00" height="51.55" fill="#F79127"/>
<rect x="2911.45" y="586.25" width="28.00" height="319.05" fill="#EF8E46"/>
<rect x="2911.45" y="905.00" width="28.00" height="47.80" fill="#CBAFCF"/>
<rect x="2389.0" y="152.5" width="556.0" height="836.5" fill="none" stroke="#7a7a7a" stroke-width="5"/>
<rect x="2389.0" y="97.5" width="556.0" height="55.5" fill="#64CBD4" stroke="#555" stroke-width="4"/>
<text transform="translate(2680.0,141.0) scale(0.965,1)" font-size="46.11" text-anchor="middle" font-weight="normal" fill="#1a1a1a">Cervical Star</text>
<rect x="2971.75" y="190.50" width="29.50" height="28.55" fill="#3F8FAD"/>
<rect x="2971.75" y="218.75" width="29.50" height="51.55" fill="#9BD08F"/>
<rect x="2971.75" y="270.00" width="29.50" height="123.30" fill="#7AC45F"/>
<rect x="2971.75" y="393.00" width="29.50" height="121.80" fill="#BB9B73"/>
<rect x="2971.75" y="514.50" width="29.50" height="9.55" fill="#E6262C"/>
<rect x="2971.75" y="523.75" width="29.50" height="10.30" fill="#F16B47"/>
<rect x="2971.75" y="533.75" width="29.50" height="131.55" fill="#FBB45F"/>
<rect x="2971.75" y="665.00" width="29.50" height="45.30" fill="#F79127"/>
<rect x="2971.75" y="710.00" width="29.50" height="242.80" fill="#CBAFCF"/>
<rect x="3008.41" y="190.50" width="29.50" height="43.05" fill="#3F8FAD"/>
<rect x="3008.41" y="233.25" width="29.50" height="70.30" fill="#9BD08F"/>
<rect x="3008.41" y="303.25" width="29.50" height="111.55" fill="#7AC45F"/>
<rect x="3008.41" y="414.50" width="29.50" height="88.30" fill="#3EA246"/>
<rect x="3008.41" y="502.50" width="29.50" height="27.30" fill="#BB9B73"/>
<rect x="3008.41" y="529.50" width="29.50" height="69.55" fill="#E6262C"/>
<rect x="3008.41" y="598.75" width="29.50" height="109.05" fill="#F16B47"/>
<rect x="3008.41" y="707.50" width="29.50" height="5.80" fill="#FBB45F"/>
<rect x="3008.41" y="713.00" width="29.50" height="51.55" fill="#F79127"/>
<rect x="3008.41" y="764.25" width="29.50" height="188.55" fill="#CBAFCF"/>
<rect x="3045.07" y="190.50" width="29.50" height="64.30" fill="#3F8FAD"/>
<rect x="3045.07" y="254.50" width="29.50" height="130.80" fill="#9BD08F"/>
<rect x="3045.07" y="385.00" width="29.50" height="304.05" fill="#7AC45F"/>
<rect x="3045.07" y="688.75" width="29.50" height="63.55" fill="#3EA246"/>
<rect x="3045.07" y="752.00" width="29.50" height="53.80" fill="#BB9B73"/>
<rect x="3045.07" y="805.50" width="29.50" height="11.05" fill="#E6262C"/>
<rect x="3045.07" y="816.25" width="29.50" height="7.80" fill="#F16B47"/>
<rect x="3045.07" y="823.75" width="29.50" height="5.30" fill="#F79127"/>
<rect x="3045.07" y="828.75" width="29.50" height="124.05" fill="#CBAFCF"/>
<rect x="3081.73" y="190.50" width="29.50" height="8.55" fill="#3F8FAD"/>
<rect x="3081.73" y="198.75" width="29.50" height="91.55" fill="#9BD08F"/>
<rect x="3081.73" y="290.00" width="29.50" height="77.80" fill="#7AC45F"/>
<rect x="3081.73" y="367.50" width="29.50" height="135.30" fill="#3EA246"/>
<rect x="3081.73" y="502.50" width="29.50" height="55.30" fill="#BB9B73"/>
<rect x="3081.73" y="557.50" width="29.50" height="152.80" fill="#E6262C"/>
<rect x="3081.73" y="710.00" width="29.50" height="14.05" fill="#F16B47"/>
<rect x="3081.73" y="723.75" width="29.50" height="7.05" fill="#FBB45F"/>
<rect x="3081.73" y="730.50" width="29.50" height="123.55" fill="#F79127"/>
<rect x="3081.73" y="853.75" width="29.50" height="99.05" fill="#CBAFCF"/>
<rect x="3118.39" y="190.50" width="29.50" height="57.30" fill="#3F8FAD"/>
<rect x="3118.39" y="247.50" width="29.50" height="5.30" fill="#9BD08F"/>
<rect x="3118.39" y="252.50" width="29.50" height="64.05" fill="#7AC45F"/>
<rect x="3118.39" y="316.25" width="29.50" height="154.80" fill="#3EA246"/>
<rect x="3118.39" y="470.75" width="29.50" height="20.05" fill="#BB9B73"/>
<rect x="3118.39" y="490.50" width="29.50" height="88.55" fill="#E6262C"/>
<rect x="3118.39" y="578.75" width="29.50" height="144.05" fill="#F16B47"/>
<rect x="3118.39" y="722.50" width="29.50" height="5.30" fill="#FBB45F"/>
<rect x="3118.39" y="727.50" width="29.50" height="11.55" fill="#F79127"/>
<rect x="3118.39" y="738.75" width="29.50" height="214.05" fill="#CBAFCF"/>
<rect x="3155.05" y="190.50" width="29.50" height="63.05" fill="#3F8FAD"/>
<rect x="3155.05" y="253.25" width="29.50" height="15.05" fill="#7AC45F"/>
<rect x="3155.05" y="268.00" width="29.50" height="199.80" fill="#3EA246"/>
<rect x="3155.05" y="467.50" width="29.50" height="74.05" fill="#BB9B73"/>
<rect x="3155.05" y="541.25" width="29.50" height="87.80" fill="#E6262C"/>
<rect x="3155.05" y="628.75" width="29.50" height="145.30" fill="#F16B47"/>
<rect x="3155.05" y="773.75" width="29.50" height="5.30" fill="#FBB45F"/>
<rect x="3155.05" y="778.75" width="29.50" height="9.05" fill="#F79127"/>
<rect x="3155.05" y="787.50" width="29.50" height="165.30" fill="#CBAFCF"/>
<rect x="3191.71" y="190.50" width="29.50" height="41.80" fill="#3F8FAD"/>
<rect x="3191.71" y="232.00" width="29.50" height="219.55" fill="#9BD08F"/>
<rect x="3191.71" y="451.25" width="29.50" height="81.05" fill="#7AC45F"/>
<rect x="3191.71" y="532.00" width="29.50" height="22.55" fill="#3EA246"/>
<rect x="3191.71" y="554.25" width="29.50" height="114.05" fill="#BB9B73"/>
<rect x="3191.71" y="668.00" width="29.50" height="26.80" fill="#E6262C"/>
<rect x="3191.71" y="694.50" width="29.50" height="13.80" fill="#F16B47"/>
<rect x="3191.71" y="708.00" width="29.50" height="97.80" fill="#FBB45F"/>
<rect x="3191.71" y="805.50" width="29.50" height="36.80" fill="#F79127"/>
<rect x="3191.71" y="842.00" width="29.50" height="110.80" fill="#CBAFCF"/>
<rect x="3228.37" y="190.50" width="29.50" height="56.05" fill="#3F8FAD"/>
<rect x="3228.37" y="246.25" width="29.50" height="34.05" fill="#9BD08F"/>
<rect x="3228.37" y="280.00" width="29.50" height="72.80" fill="#7AC45F"/>
<rect x="3228.37" y="352.50" width="29.50" height="15.80" fill="#3EA246"/>
<rect x="3228.37" y="368.00" width="29.50" height="58.55" fill="#BB9B73"/>
<rect x="3228.37" y="426.25" width="29.50" height="32.80" fill="#E6262C"/>
<rect x="3228.37" y="458.75" width="29.50" height="56.55" fill="#F16B47"/>
<rect x="3228.37" y="515.00" width="29.50" height="321.55" fill="#FBB45F"/>
<rect x="3228.37" y="836.25" width="29.50" height="20.30" fill="#F79127"/>
<rect x="3228.37" y="856.25" width="29.50" height="96.55" fill="#CBAFCF"/>
<rect x="3265.03" y="190.50" width="29.50" height="8.55" fill="#3F8FAD"/>
<rect x="3265.03" y="198.75" width="29.50" height="169.05" fill="#9BD08F"/>
<rect x="3265.03" y="367.50" width="29.50" height="366.55" fill="#7AC45F"/>
<rect x="3265.03" y="733.75" width="29.50" height="3.55" fill="#3EA246"/>
<rect x="3265.03" y="737.00" width="29.50" height="65.80" fill="#BB9B73"/>
<rect x="3265.03" y="802.50" width="29.50" height="29.80" fill="#E6262C"/>
<rect x="3265.03" y="832.00" width="29.50" height="12.80" fill="#F16B47"/>
<rect x="3265.03" y="844.50" width="29.50" height="6.30" fill="#FBB45F"/>
<rect x="3265.03" y="850.50" width="29.50" height="44.80" fill="#F79127"/>
<rect x="3265.03" y="895.00" width="29.50" height="57.80" fill="#CBAFCF"/>
<rect x="3301.69" y="190.50" width="29.50" height="102.30" fill="#3F8FAD"/>
<rect x="3301.69" y="292.50" width="29.50" height="42.30" fill="#9BD08F"/>
<rect x="3301.69" y="334.50" width="29.50" height="45.30" fill="#7AC45F"/>
<rect x="3301.69" y="379.50" width="29.50" height="61.30" fill="#3EA246"/>
<rect x="3301.69" y="440.50" width="29.50" height="114.05" fill="#BB9B73"/>
<rect x="3301.69" y="554.25" width="29.50" height="51.05" fill="#E6262C"/>
<rect x="3301.69" y="605.00" width="29.50" height="123.30" fill="#F16B47"/>
<rect x="3301.69" y="728.00" width="29.50" height="42.30" fill="#FBB45F"/>
<rect x="3301.69" y="770.00" width="29.50" height="80.80" fill="#F79127"/>
<rect x="3301.69" y="850.50" width="29.50" height="102.30" fill="#CBAFCF"/>
<rect x="3338.35" y="190.50" width="29.50" height="76.05" fill="#3F8FAD"/>
<rect x="3338.35" y="266.25" width="29.50" height="115.30" fill="#9BD08F"/>
<rect x="3338.35" y="381.25" width="29.50" height="37.80" fill="#7AC45F"/>
<rect x="3338.35" y="418.75" width="29.50" height="169.55" fill="#BB9B73"/>
<rect x="3338.35" y="588.00" width="29.50" height="47.30" fill="#E6262C"/>
<rect x="3338.35" y="635.00" width="29.50" height="22.80" fill="#F16B47"/>
<rect x="3338.35" y="657.50" width="29.50" height="49.80" fill="#FBB45F"/>
<rect x="3338.35" y="707.00" width="29.50" height="61.30" fill="#F79127"/>
<rect x="3338.35" y="768.00" width="29.50" height="184.80" fill="#CBAFCF"/>
<rect x="3375.01" y="190.50" width="29.50" height="48.55" fill="#9BD08F"/>
<rect x="3375.01" y="238.75" width="29.50" height="61.05" fill="#7AC45F"/>
<rect x="3375.01" y="299.50" width="29.50" height="41.30" fill="#E6262C"/>
<rect x="3375.01" y="340.50" width="29.50" height="30.30" fill="#F16B47"/>
<rect x="3375.01" y="370.50" width="29.50" height="469.80" fill="#FBB45F"/>
<rect x="3375.01" y="840.00" width="29.50" height="69.80" fill="#F79127"/>
<rect x="3375.01" y="909.50" width="29.50" height="43.30" fill="#CBAFCF"/>
<rect x="3411.67" y="190.50" width="29.50" height="36.80" fill="#3F8FAD"/>
<rect x="3411.67" y="227.00" width="29.50" height="118.80" fill="#9BD08F"/>
<rect x="3411.67" y="345.50" width="29.50" height="119.80" fill="#7AC45F"/>
<rect x="3411.67" y="465.00" width="29.50" height="19.80" fill="#3EA246"/>
<rect x="3411.67" y="484.50" width="29.50" height="93.30" fill="#BB9B73"/>
<rect x="3411.67" y="577.50" width="29.50" height="21.55" fill="#E6262C"/>
<rect x="3411.67" y="598.75" width="29.50" height="6.05" fill="#FBB45F"/>
<rect x="3411.67" y="604.50" width="29.50" height="156.55" fill="#F79127"/>
<rect x="3411.67" y="760.75" width="29.50" height="192.05" fill="#CBAFCF"/>
<rect x="3448.33" y="190.50" width="29.50" height="23.55" fill="#3F8FAD"/>
<rect x="3448.33" y="213.75" width="29.50" height="170.30" fill="#9BD08F"/>
<rect x="3448.33" y="383.75" width="29.50" height="164.05" fill="#7AC45F"/>
<rect x="3448.33" y="547.50" width="29.50" height="15.30" fill="#3EA246"/>
<rect x="3448.33" y="562.50" width="29.50" height="30.80" fill="#BB9B73"/>
<rect x="3448.33" y="593.00" width="29.50" height="22.30" fill="#E6262C"/>
<rect x="3448.33" y="615.00" width="29.50" height="17.30" fill="#F16B47"/>
<rect x="3448.33" y="632.00" width="29.50" height="18.30" fill="#FBB45F"/>
<rect x="3448.33" y="650.00" width="29.50" height="192.30" fill="#F79127"/>
<rect x="3448.33" y="842.00" width="29.50" height="110.80" fill="#CBAFCF"/>
<rect x="3484.99" y="190.50" width="29.50" height="77.80" fill="#9BD08F"/>
<rect x="3484.99" y="268.00" width="29.50" height="147.80" fill="#7AC45F"/>
<rect x="3484.99" y="415.50" width="29.50" height="30.30" fill="#3EA246"/>
<rect x="3484.99" y="445.50" width="29.50" height="19.80" fill="#BB9B73"/>
<rect x="3484.99" y="465.00" width="29.50" height="215.30" fill="#E6262C"/>
<rect x="3484.99" y="680.00" width="29.50" height="12.80" fill="#F16B47"/>
<rect x="3484.99" y="692.50" width="29.50" height="5.30" fill="#FBB45F"/>
<rect x="3484.99" y="697.50" width="29.50" height="207.80" fill="#F79127"/>
<rect x="3484.99" y="905.00" width="29.50" height="47.80" fill="#CBAFCF"/>
<rect x="2965.0" y="152.5" width="555.75" height="836.5" fill="none" stroke="#7a7a7a" stroke-width="5"/>
<rect x="2965.0" y="97.5" width="555.75" height="55.5" fill="#EDD06E" stroke="#555" stroke-width="4"/>
<text transform="translate(3251.9,141.0) scale(0.965,1)" font-size="46.11" text-anchor="middle" font-weight="normal" fill="#1a1a1a">Pregnant Horn</text>
<rect x="3545.85" y="190.50" width="24.30" height="106.05" fill="#A6CEE3"/>
<rect x="3545.85" y="296.25" width="24.30" height="37.80" fill="#4F98C9"/>
<rect x="3545.85" y="333.75" width="24.30" height="76.05" fill="#3F8FAD"/>
<rect x="3545.85" y="409.50" width="24.30" height="74.55" fill="#7AC45F"/>
<rect x="3545.85" y="483.75" width="24.30" height="28.55" fill="#3EA246"/>
<rect x="3545.85" y="512.00" width="24.30" height="267.05" fill="#F4777B"/>
<rect x="3545.85" y="778.75" width="24.30" height="17.05" fill="#E6262C"/>
<rect x="3545.85" y="795.50" width="24.30" height="32.80" fill="#F16B47"/>
<rect x="3545.85" y="828.00" width="24.30" height="49.30" fill="#F79127"/>
<rect x="3545.85" y="877.00" width="24.30" height="75.80" fill="#9571B3"/>
<rect x="3576.51" y="190.50" width="24.30" height="147.30" fill="#A6CEE3"/>
<rect x="3576.51" y="337.50" width="24.30" height="69.05" fill="#4F98C9"/>
<rect x="3576.51" y="406.25" width="24.30" height="46.05" fill="#3F8FAD"/>
<rect x="3576.51" y="452.00" width="24.30" height="62.05" fill="#7AC45F"/>
<rect x="3576.51" y="513.75" width="24.30" height="35.30" fill="#3EA246"/>
<rect x="3576.51" y="548.75" width="24.30" height="101.55" fill="#F4777B"/>
<rect x="3576.51" y="650.00" width="24.30" height="84.55" fill="#E6262C"/>
<rect x="3576.51" y="734.25" width="24.30" height="25.30" fill="#F16B47"/>
<rect x="3576.51" y="759.25" width="24.30" height="47.30" fill="#F79127"/>
<rect x="3576.51" y="806.25" width="24.30" height="146.55" fill="#9571B3"/>
<rect x="3607.17" y="190.50" width="24.30" height="126.55" fill="#A6CEE3"/>
<rect x="3607.17" y="316.75" width="24.30" height="87.30" fill="#4F98C9"/>
<rect x="3607.17" y="403.75" width="24.30" height="109.05" fill="#3F8FAD"/>
<rect x="3607.17" y="512.50" width="24.30" height="161.55" fill="#7AC45F"/>
<rect x="3607.17" y="673.75" width="24.30" height="25.30" fill="#3EA246"/>
<rect x="3607.17" y="698.75" width="24.30" height="92.80" fill="#F4777B"/>
<rect x="3607.17" y="791.25" width="24.30" height="45.30" fill="#E6262C"/>
<rect x="3607.17" y="836.25" width="24.30" height="32.80" fill="#F16B47"/>
<rect x="3607.17" y="868.75" width="24.30" height="24.55" fill="#F79127"/>
<rect x="3607.17" y="893.00" width="24.30" height="59.80" fill="#9571B3"/>
<rect x="3637.83" y="190.50" width="24.30" height="282.30" fill="#A6CEE3"/>
<rect x="3637.83" y="472.50" width="24.30" height="58.30" fill="#3F8FAD"/>
<rect x="3637.83" y="530.50" width="24.30" height="94.80" fill="#7AC45F"/>
<rect x="3637.83" y="625.00" width="24.30" height="91.05" fill="#3EA246"/>
<rect x="3637.83" y="715.75" width="24.30" height="36.55" fill="#F4777B"/>
<rect x="3637.83" y="752.00" width="24.30" height="12.55" fill="#E6262C"/>
<rect x="3637.83" y="764.25" width="24.30" height="9.05" fill="#F16B47"/>
<rect x="3637.83" y="773.00" width="24.30" height="96.05" fill="#F79127"/>
<rect x="3637.83" y="868.75" width="24.30" height="84.05" fill="#9571B3"/>
<rect x="3668.49" y="190.50" width="24.30" height="11.80" fill="#A6CEE3"/>
<rect x="3668.49" y="202.00" width="24.30" height="12.55" fill="#4F98C9"/>
<rect x="3668.49" y="214.25" width="24.30" height="152.30" fill="#3F8FAD"/>
<rect x="3668.49" y="366.25" width="24.30" height="4.55" fill="#7AC45F"/>
<rect x="3668.49" y="370.50" width="24.30" height="132.30" fill="#3EA246"/>
<rect x="3668.49" y="502.50" width="24.30" height="94.05" fill="#F4777B"/>
<rect x="3668.49" y="596.25" width="24.30" height="42.05" fill="#E6262C"/>
<rect x="3668.49" y="638.00" width="24.30" height="12.30" fill="#F16B47"/>
<rect x="3668.49" y="650.00" width="24.30" height="47.80" fill="#F79127"/>
<rect x="3668.49" y="697.50" width="24.30" height="255.30" fill="#9571B3"/>
<rect x="3699.15" y="190.50" width="24.30" height="345.30" fill="#A6CEE3"/>
<rect x="3699.15" y="535.50" width="24.30" height="34.80" fill="#4F98C9"/>
<rect x="3699.15" y="570.00" width="24.30" height="22.80" fill="#3F8FAD"/>
<rect x="3699.15" y="592.50" width="24.30" height="67.05" fill="#7AC45F"/>
<rect x="3699.15" y="659.25" width="24.30" height="19.80" fill="#3EA246"/>
<rect x="3699.15" y="678.75" width="24.30" height="135.30" fill="#E6262C"/>
<rect x="3699.15" y="813.75" width="24.30" height="76.55" fill="#F16B47"/>
<rect x="3699.15" y="890.00" width="24.30" height="13.30" fill="#F79127"/>
<rect x="3699.15" y="903.00" width="24.30" height="49.80" fill="#9571B3"/>
<rect x="3729.81" y="190.50" width="24.30" height="14.80" fill="#A6CEE3"/>
<rect x="3729.81" y="205.00" width="24.30" height="9.55" fill="#4F98C9"/>
<rect x="3729.81" y="214.25" width="24.30" height="251.05" fill="#3F8FAD"/>
<rect x="3729.81" y="465.00" width="24.30" height="4.80" fill="#7AC45F"/>
<rect x="3729.81" y="469.50" width="24.30" height="163.80" fill="#3EA246"/>
<rect x="3729.81" y="633.00" width="24.30" height="11.05" fill="#F4777B"/>
<rect x="3729.81" y="643.75" width="24.30" height="60.30" fill="#E6262C"/>
<rect x="3729.81" y="703.75" width="24.30" height="178.55" fill="#F16B47"/>
<rect x="3729.81" y="882.00" width="24.30" height="2.80" fill="#F79127"/>
<rect x="3729.81" y="884.50" width="24.30" height="68.30" fill="#9571B3"/>
<rect x="3760.47" y="190.50" width="24.30" height="41.80" fill="#A6CEE3"/>
<rect x="3760.47" y="232.00" width="24.30" height="12.05" fill="#4F98C9"/>
<rect x="3760.47" y="243.75" width="24.30" height="40.30" fill="#3F8FAD"/>
<rect x="3760.47" y="283.75" width="24.30" height="45.30" fill="#7AC45F"/>
<rect x="3760.47" y="328.75" width="24.30" height="10.30" fill="#3EA246"/>
<rect x="3760.47" y="338.75" width="24.30" height="185.30" fill="#F4777B"/>
<rect x="3760.47" y="523.75" width="24.30" height="69.55" fill="#E6262C"/>
<rect x="3760.47" y="593.00" width="24.30" height="36.05" fill="#F16B47"/>
<rect x="3760.47" y="628.75" width="24.30" height="99.55" fill="#F79127"/>
<rect x="3760.47" y="728.00" width="24.30" height="224.80" fill="#9571B3"/>
<rect x="3791.13" y="190.50" width="24.30" height="249.80" fill="#A6CEE3"/>
<rect x="3791.13" y="440.00" width="24.30" height="52.80" fill="#4F98C9"/>
<rect x="3791.13" y="492.50" width="24.30" height="37.80" fill="#3F8FAD"/>
<rect x="3791.13" y="530.00" width="24.30" height="60.30" fill="#7AC45F"/>
<rect x="3791.13" y="590.00" width="24.30" height="28.30" fill="#3EA246"/>
<rect x="3791.13" y="618.00" width="24.30" height="162.80" fill="#F4777B"/>
<rect x="3791.13" y="780.50" width="24.30" height="18.55" fill="#E6262C"/>
<rect x="3791.13" y="798.75" width="24.30" height="10.30" fill="#F16B47"/>
<rect x="3791.13" y="808.75" width="24.30" height="15.30" fill="#F79127"/>
<rect x="3791.13" y="823.75" width="24.30" height="129.05" fill="#9571B3"/>
<rect x="3821.79" y="190.50" width="24.30" height="51.05" fill="#A6CEE3"/>
<rect x="3821.79" y="241.25" width="24.30" height="204.55" fill="#4F98C9"/>
<rect x="3821.79" y="445.50" width="24.30" height="84.80" fill="#3F8FAD"/>
<rect x="3821.79" y="530.00" width="24.30" height="99.05" fill="#7AC45F"/>
<rect x="3821.79" y="628.75" width="24.30" height="25.80" fill="#3EA246"/>
<rect x="3821.79" y="654.25" width="24.30" height="64.80" fill="#F4777B"/>
<rect x="3821.79" y="718.75" width="24.30" height="45.80" fill="#E6262C"/>
<rect x="3821.79" y="764.25" width="24.30" height="63.05" fill="#F16B47"/>
<rect x="3821.79" y="827.00" width="24.30" height="18.80" fill="#F79127"/>
<rect x="3821.79" y="845.50" width="24.30" height="107.30" fill="#9571B3"/>
<rect x="3852.45" y="190.50" width="24.30" height="153.55" fill="#A6CEE3"/>
<rect x="3852.45" y="343.75" width="24.30" height="224.05" fill="#4F98C9"/>
<rect x="3852.45" y="567.50" width="24.30" height="10.30" fill="#3F8FAD"/>
<rect x="3852.45" y="577.50" width="24.30" height="199.05" fill="#7AC45F"/>
<rect x="3852.45" y="776.25" width="24.30" height="6.05" fill="#3EA246"/>
<rect x="3852.45" y="782.00" width="24.30" height="48.30" fill="#F4777B"/>
<rect x="3852.45" y="830.00" width="24.30" height="32.30" fill="#E6262C"/>
<rect x="3852.45" y="862.00" width="24.30" height="20.80" fill="#F16B47"/>
<rect x="3852.45" y="882.50" width="24.30" height="16.55" fill="#F79127"/>
<rect x="3852.45" y="898.75" width="24.30" height="54.05" fill="#9571B3"/>
<rect x="3883.11" y="190.50" width="24.30" height="141.05" fill="#A6CEE3"/>
<rect x="3883.11" y="331.25" width="24.30" height="60.30" fill="#4F98C9"/>
<rect x="3883.11" y="391.25" width="24.30" height="17.80" fill="#3F8FAD"/>
<rect x="3883.11" y="408.75" width="24.30" height="64.55" fill="#7AC45F"/>
<rect x="3883.11" y="473.00" width="24.30" height="58.55" fill="#3EA246"/>
<rect x="3883.11" y="531.25" width="24.30" height="48.55" fill="#F4777B"/>
<rect x="3883.11" y="579.50" width="24.30" height="118.80" fill="#E6262C"/>
<rect x="3883.11" y="698.00" width="24.30" height="90.30" fill="#F16B47"/>
<rect x="3883.11" y="788.00" width="24.30" height="79.30" fill="#F79127"/>
<rect x="3883.11" y="867.00" width="24.30" height="85.80" fill="#9571B3"/>
<rect x="3913.77" y="190.50" width="24.30" height="135.30" fill="#A6CEE3"/>
<rect x="3913.77" y="325.50" width="24.30" height="127.30" fill="#4F98C9"/>
<rect x="3913.77" y="452.50" width="24.30" height="50.30" fill="#7AC45F"/>
<rect x="3913.77" y="502.50" width="24.30" height="18.30" fill="#3EA246"/>
<rect x="3913.77" y="520.50" width="24.30" height="149.80" fill="#F4777B"/>
<rect x="3913.77" y="670.00" width="24.30" height="95.30" fill="#E6262C"/>
<rect x="3913.77" y="765.00" width="24.30" height="44.80" fill="#F16B47"/>
<rect x="3913.77" y="809.50" width="24.30" height="73.30" fill="#F79127"/>
<rect x="3913.77" y="882.50" width="24.30" height="70.30" fill="#9571B3"/>
<rect x="3944.43" y="190.50" width="24.30" height="62.30" fill="#A6CEE3"/>
<rect x="3944.43" y="252.50" width="24.30" height="50.30" fill="#4F98C9"/>
<rect x="3944.43" y="302.50" width="24.30" height="32.30" fill="#3F8FAD"/>
<rect x="3944.43" y="334.50" width="24.30" height="66.30" fill="#7AC45F"/>
<rect x="3944.43" y="400.50" width="24.30" height="24.30" fill="#3EA246"/>
<rect x="3944.43" y="424.50" width="24.30" height="129.55" fill="#F4777B"/>
<rect x="3944.43" y="553.75" width="24.30" height="45.30" fill="#E6262C"/>
<rect x="3944.43" y="598.75" width="24.30" height="9.55" fill="#F16B47"/>
<rect x="3944.43" y="608.00" width="24.30" height="210.30" fill="#F79127"/>
<rect x="3944.43" y="818.00" width="24.30" height="134.80" fill="#9571B3"/>
<rect x="3975.09" y="190.50" width="24.30" height="82.30" fill="#A6CEE3"/>
<rect x="3975.09" y="272.50" width="24.30" height="77.30" fill="#4F98C9"/>
<rect x="3975.09" y="349.50" width="24.30" height="51.30" fill="#3F8FAD"/>
<rect x="3975.09" y="400.50" width="24.30" height="134.30" fill="#7AC45F"/>
<rect x="3975.09" y="534.50" width="24.30" height="46.30" fill="#3EA246"/>
<rect x="3975.09" y="580.50" width="24.30" height="42.80" fill="#F4777B"/>
<rect x="3975.09" y="623.00" width="24.30" height="39.30" fill="#E6262C"/>
<rect x="3975.09" y="662.00" width="24.30" height="53.30" fill="#F16B47"/>
<rect x="3975.09" y="715.00" width="24.30" height="179.80" fill="#F79127"/>
<rect x="3975.09" y="894.50" width="24.30" height="58.30" fill="#9571B3"/>
<rect x="4005.75" y="190.50" width="24.30" height="54.30" fill="#A6CEE3"/>
<rect x="4005.75" y="244.50" width="24.30" height="231.30" fill="#4F98C9"/>
<rect x="4005.75" y="475.50" width="24.30" height="13.55" fill="#3F8FAD"/>
<rect x="4005.75" y="488.75" width="24.30" height="59.05" fill="#7AC45F"/>
<rect x="4005.75" y="547.50" width="24.30" height="46.55" fill="#3EA246"/>
<rect x="4005.75" y="593.75" width="24.30" height="51.05" fill="#F4777B"/>
<rect x="4005.75" y="644.50" width="24.30" height="122.05" fill="#E6262C"/>
<rect x="4005.75" y="766.25" width="24.30" height="102.80" fill="#F16B47"/>
<rect x="4005.75" y="868.75" width="24.30" height="37.80" fill="#F79127"/>
<rect x="4005.75" y="906.25" width="24.30" height="46.55" fill="#9571B3"/>
<rect x="4036.41" y="190.50" width="24.30" height="87.30" fill="#A6CEE3"/>
<rect x="4036.41" y="277.50" width="24.30" height="51.55" fill="#4F98C9"/>
<rect x="4036.41" y="328.75" width="24.30" height="63.30" fill="#3F8FAD"/>
<rect x="4036.41" y="391.75" width="24.30" height="79.80" fill="#7AC45F"/>
<rect x="4036.41" y="471.25" width="24.30" height="105.30" fill="#3EA246"/>
<rect x="4036.41" y="576.25" width="24.30" height="61.55" fill="#F4777B"/>
<rect x="4036.41" y="637.50" width="24.30" height="74.05" fill="#E6262C"/>
<rect x="4036.41" y="711.25" width="24.30" height="52.80" fill="#F16B47"/>
<rect x="4036.41" y="763.75" width="24.30" height="75.30" fill="#F79127"/>
<rect x="4036.41" y="838.75" width="24.30" height="114.05" fill="#9571B3"/>
<rect x="4067.07" y="190.50" width="24.30" height="69.30" fill="#A6CEE3"/>
<rect x="4067.07" y="259.50" width="24.30" height="58.30" fill="#4F98C9"/>
<rect x="4067.07" y="317.50" width="24.30" height="182.80" fill="#7AC45F"/>
<rect x="4067.07" y="500.00" width="24.30" height="77.80" fill="#3EA246"/>
<rect x="4067.07" y="577.50" width="24.30" height="22.30" fill="#F4777B"/>
<rect x="4067.07" y="599.50" width="24.30" height="165.30" fill="#E6262C"/>
<rect x="4067.07" y="764.50" width="24.30" height="35.30" fill="#F16B47"/>
<rect x="4067.07" y="799.50" width="24.30" height="115.80" fill="#F79127"/>
<rect x="4067.07" y="915.00" width="24.30" height="37.80" fill="#9571B3"/>
<rect x="3541.0" y="152.5" width="556.0" height="836.5" fill="none" stroke="#7a7a7a" stroke-width="5"/>
<rect x="3541.0" y="97.5" width="556.0" height="55.5" fill="#F49377" stroke="#555" stroke-width="4"/>
<text transform="translate(3821.0,141.0) scale(0.965,1)" font-size="46.11" text-anchor="middle" font-weight="normal" fill="#1a1a1a">Umbilical Cord</text>
<line x1="2377.5" y1="190.5" x2="2388" y2="190.5" stroke="#3a3a3a" stroke-width="4.5"/>
<text transform="translate(2368.8,200.3) scale(0.965,1)" font-size="40.41" text-anchor="end" font-weight="normal" fill="#3a3a3a">1.00</text>
<line x1="2377.5" y1="381" x2="2388" y2="381" stroke="#3a3a3a" stroke-width="4.5"/>
<text transform="translate(2368.8,390.8) scale(0.965,1)" font-size="40.41" text-anchor="end" font-weight="normal" fill="#3a3a3a">0.75</text>
<line x1="2377.5" y1="571.5" x2="2388" y2="571.5" stroke="#3a3a3a" stroke-width="4.5"/>
<text transform="translate(2368.8,581.3) scale(0.965,1)" font-size="40.41" text-anchor="end" font-weight="normal" fill="#3a3a3a">0.50</text>
<line x1="2377.5" y1="762" x2="2388" y2="762" stroke="#3a3a3a" stroke-width="4.5"/>
<text transform="translate(2368.8,771.8) scale(0.965,1)" font-size="40.41" text-anchor="end" font-weight="normal" fill="#3a3a3a">0.25</text>
<line x1="2377.5" y1="952.5" x2="2388" y2="952.5" stroke="#3a3a3a" stroke-width="4.5"/>
<text transform="translate(2368.8,962.3) scale(0.965,1)" font-size="40.41" text-anchor="end" font-weight="normal" fill="#3a3a3a">0.00</text>
<text transform="translate(2253.5,570.5) rotate(-90) scale(0.965,1)" font-size="56.79" text-anchor="middle" fill="#1a1a1a">Relative Abundance</text>
<rect x="2296.00" y="1062.00" width="38.50" height="37.50" fill="#A6CEE3"/>
<text transform="translate(2343.0,1094.0) scale(0.965,1)" font-size="37.93" text-anchor="start" font-weight="normal" fill="#1a1a1a">Acinetobacter</text>
<polygon points="2567.0,1096.5 2603.5,1096.5 2585.2,1065.0" fill="#E7332A"/>
<rect x="2296.00" y="1106.70" width="38.50" height="37.50" fill="#4F98C9"/>
<text transform="translate(2343.0,1138.7) scale(0.965,1)" font-size="37.93" text-anchor="start" font-weight="normal" fill="#1a1a1a">Brachybacterium</text>
<polygon points="2620.0,1141.2 2656.5,1141.2 2638.2,1109.7" fill="#75ADD4"/>
<rect x="2296.00" y="1151.40" width="38.50" height="37.50" fill="#3F8FAD"/>
<text transform="translate(2343.0,1183.4) scale(0.965,1)" font-size="37.93" text-anchor="start" font-weight="normal" fill="#1a1a1a">Chryseobacterium</text>
<polygon points="2647.0,1185.9 2683.5,1185.9 2665.2,1154.4" fill="#3E8DC4"/>
<rect x="2697.00" y="1062.00" width="38.50" height="37.50" fill="#9BD08F"/>
<text transform="translate(2743.0,1094.0) scale(0.965,1)" font-size="37.93" text-anchor="start" font-weight="normal" fill="#1a1a1a">Comamonas</text>
<polygon points="2956.0,1096.5 2992.5,1096.5 2974.2,1065.0" fill="#E7332A"/>
<rect x="2697.00" y="1106.70" width="38.50" height="37.50" fill="#7AC45F"/>
<text transform="translate(2743.0,1138.7) scale(0.965,1)" font-size="37.93" text-anchor="start" font-weight="normal" fill="#1a1a1a">Corynebacterium</text>
<polygon points="3024.5,1141.2 3061.0,1141.2 3042.8,1109.7" fill="#75ADD4"/>
<rect x="2697.00" y="1151.40" width="38.50" height="37.50" fill="#3EA246"/>
<text transform="translate(2743.0,1183.4) scale(0.965,1)" font-size="37.93" text-anchor="start" font-weight="normal" fill="#1a1a1a">Devosia</text>
<polygon points="2877.0,1185.9 2913.5,1185.9 2895.2,1154.4" fill="#E7332A"/>
<rect x="3080.00" y="1062.00" width="38.50" height="37.50" fill="#BB9B73"/>
<text transform="translate(3126.5,1094.0) scale(0.965,1)" font-size="37.93" text-anchor="start" font-weight="normal" fill="#1a1a1a">Flavobacterium</text>
<polygon points="3377.0,1096.5 3413.5,1096.5 3395.2,1065.0" fill="#3E8DC4"/>
<rect x="3080.00" y="1106.70" width="38.50" height="37.50" fill="#F4777B"/>
<text transform="translate(3126.5,1138.7) scale(0.965,1)" font-size="37.93" text-anchor="start" font-weight="normal" fill="#1a1a1a">Kurthia</text>
<polygon points="3245.0,1141.2 3281.5,1141.2 3263.2,1109.7" fill="#3AA648"/>
<rect x="3080.00" y="1151.40" width="38.50" height="37.50" fill="#E6262C"/>
<text transform="translate(3126.5,1183.4) scale(0.965,1)" font-size="37.93" text-anchor="start" font-weight="normal" fill="#1a1a1a">Luteimonas</text>
<polygon points="3318.0,1185.9 3354.5,1185.9 3336.2,1154.4" fill="#E7332A"/>
<rect x="3437.50" y="1062.00" width="38.50" height="37.50" fill="#F16B47"/>
<text transform="translate(3483.0,1094.0) scale(0.965,1)" font-size="37.93" text-anchor="start" font-weight="normal" fill="#1a1a1a">Paracoccus</text>
<polygon points="3675.5,1096.5 3712.0,1096.5 3693.8,1065.0" fill="#E7332A"/>
<rect x="3437.50" y="1106.70" width="38.50" height="37.50" fill="#FBB45F"/>
<text transform="translate(3483.0,1138.7) scale(0.965,1)" font-size="37.93" text-anchor="start" font-weight="normal" fill="#1a1a1a">Planomicrobium</text>
<polygon points="3748.5,1141.2 3785.0,1141.2 3766.8,1109.7" fill="#3AA648"/>
<rect x="3437.50" y="1151.40" width="38.50" height="37.50" fill="#F79127"/>
<text transform="translate(3483.0,1183.4) scale(0.965,1)" font-size="37.93" text-anchor="start" font-weight="normal" fill="#1a1a1a">Pseudomonas</text>
<polygon points="3722.0,1185.9 3758.5,1185.9 3740.2,1154.4" fill="#E7332A"/>
<rect x="3806.00" y="1062.00" width="38.50" height="37.50" fill="#EF8E46"/>
<text transform="translate(3853.0,1094.0) scale(0.965,1)" font-size="37.93" text-anchor="start" font-weight="normal" fill="#1a1a1a">Saccharopolyspora</text>
<polygon points="4171.5,1096.5 4208.0,1096.5 4189.8,1065.0" fill="#75ADD4"/>
<rect x="3806.00" y="1106.70" width="38.50" height="37.50" fill="#CBAFCF"/>
<text transform="translate(3853.0,1138.7) scale(0.965,1)" font-size="37.93" text-anchor="start" font-weight="normal" fill="#1a1a1a">Sphingomonas</text>
<polygon points="4100.5,1141.2 4137.0,1141.2 4118.8,1109.7" fill="#3E8DC4"/>
<rect x="3806.00" y="1151.40" width="38.50" height="37.50" fill="#9571B3"/>
<text transform="translate(3853.0,1183.4) scale(0.965,1)" font-size="37.93" text-anchor="start" font-weight="normal" fill="#1a1a1a">Stenotrophomonas</text>
<polygon points="4163.0,1185.9 4199.5,1185.9 4181.2,1154.4" fill="#E7332A"/>
<text transform="translate(20.5,1382.3)  scale(0.9,1)" font-size="76" letter-spacing="1.5" font-weight="bold" fill="#231f20">(C)</text>
<path d="M352.1,1797.3 L561.80,1797.30 A209.7,209.7 0 0 0 320.41,1590.01 Z" fill="#1072BD" stroke="#000" stroke-width="2.6" stroke-linejoin="round"/>
<line x1="488.72" y1="1638.21" x2="495.55" y2="1630.26" stroke="#000" stroke-width="2.6"/>
<path d="M352.1,1797.3 L320.41,1590.01 A209.7,209.7 0 0 0 205.35,1647.51 Z" fill="#EDC01F" stroke="#000" stroke-width="2.6" stroke-linejoin="round"/>
<line x1="258.36" y1="1609.72" x2="253.67" y2="1600.34" stroke="#000" stroke-width="2.6"/>
<path d="M352.1,1797.3 L205.35,1647.51 A209.7,209.7 0 0 0 195.53,1657.80 Z" fill="#1F9142" stroke="#000" stroke-width="2.6" stroke-linejoin="round"/>
<line x1="200.35" y1="1652.57" x2="192.76" y2="1645.34" stroke="#000" stroke-width="2.6"/>
<path d="M352.1,1797.3 L195.53,1657.80 A209.7,209.7 0 0 0 145.81,1834.95 Z" fill="#A0A0A0" stroke="#000" stroke-width="2.6" stroke-linejoin="round"/>
<line x1="150.20" y1="1740.63" x2="140.11" y2="1737.80" stroke="#000" stroke-width="2.6"/>
<path d="M352.1,1797.3 L145.81,1834.95 A209.7,209.7 0 0 0 561.80,1797.30 Z" fill="#D0534E" stroke="#000" stroke-width="2.6" stroke-linejoin="round"/>
<line x1="371.00" y1="2006.15" x2="371.95" y2="2016.59" stroke="#000" stroke-width="2.6"/>
<text transform="translate(503.8,1627.7) scale(0.965,1)" font-size="44.56" text-anchor="start" font-weight="normal" fill="#1a1a1a">26.91</text>
<text transform="translate(199.3,1587.0) scale(0.965,1)" font-size="44.56" text-anchor="start" font-weight="normal" fill="#1a1a1a">9.74</text>
<text transform="translate(111.0,1634.0) scale(0.965,1)" font-size="44.56" text-anchor="start" font-weight="normal" fill="#1a1a1a">1.06</text>
<text transform="translate(28.2,1747.0) scale(0.965,1)" font-size="44.56" text-anchor="start" font-weight="normal" fill="#1a1a1a">14.19</text>
<text transform="translate(370.0,2054.5) scale(0.965,1)" font-size="44.56" text-anchor="start" font-weight="normal" fill="#1a1a1a">46.26</text>
<text transform="translate(336.0,1501.5) scale(0.935,1)" font-size="63.96" text-anchor="middle" font-weight="bold" fill="#000">CS</text>
<path d="M948.0,1793.2 L1157.80,1793.20 A209.8,209.8 0 0 0 878.20,1595.35 Z" fill="#1072BD" stroke="#000" stroke-width="2.6" stroke-linejoin="round"/>
<line x1="1069.19" y1="1621.94" x2="1075.25" y2="1613.38" stroke="#000" stroke-width="2.6"/>
<path d="M948.0,1793.2 L878.20,1595.35 A209.8,209.8 0 0 0 782.73,1663.97 Z" fill="#EDC01F" stroke="#000" stroke-width="2.6" stroke-linejoin="round"/>
<line x1="825.56" y1="1622.83" x2="819.44" y2="1614.32" stroke="#000" stroke-width="2.6"/>
<path d="M948.0,1793.2 L782.73,1663.97 A209.8,209.8 0 0 0 773.93,1676.09 Z" fill="#1F9142" stroke="#000" stroke-width="2.6" stroke-linejoin="round"/>
<line x1="778.22" y1="1669.95" x2="769.73" y2="1663.78" stroke="#000" stroke-width="2.6"/>
<path d="M948.0,1793.2 L773.93,1676.09 A209.8,209.8 0 0 0 756.33,1878.53 Z" fill="#A0A0A0" stroke="#000" stroke-width="2.6" stroke-linejoin="round"/>
<line x1="738.99" y1="1775.03" x2="728.54" y2="1774.12" stroke="#000" stroke-width="2.6"/>
<path d="M948.0,1793.2 L756.33,1878.53 A209.8,209.8 0 0 0 1157.80,1793.20 Z" fill="#D0534E" stroke="#000" stroke-width="2.6" stroke-linejoin="round"/>
<line x1="991.62" y1="1998.42" x2="993.80" y2="2008.68" stroke="#000" stroke-width="2.6"/>
<text transform="translate(1081.7,1615.8) scale(0.965,1)" font-size="44.56" text-anchor="start" font-weight="normal" fill="#1a1a1a">29.96</text>
<text transform="translate(756.7,1601.7) scale(0.965,1)" font-size="44.56" text-anchor="start" font-weight="normal" fill="#1a1a1a">8.91</text>
<text transform="translate(683.6,1669.4) scale(0.965,1)" font-size="44.56" text-anchor="start" font-weight="normal" fill="#1a1a1a">1.12</text>
<text transform="translate(621.8,1783.7) scale(0.965,1)" font-size="44.56" text-anchor="start" font-weight="normal" fill="#1a1a1a">15.86</text>
<text transform="translate(992.3,2047.5) scale(0.965,1)" font-size="44.56" text-anchor="start" font-weight="normal" fill="#1a1a1a">42.71</text>
<text transform="translate(961.5,1496.0) scale(0.935,1)" font-size="63.96" text-anchor="middle" font-weight="bold" fill="#000">PH</text>
<path d="M351.0,2444.6 L560.60,2444.60 A209.6,209.6 0 0 0 302.09,2240.79 Z" fill="#1072BD" stroke="#000" stroke-width="2.6" stroke-linejoin="round"/>
<line x1="480.77" y1="2280.00" x2="487.26" y2="2271.77" stroke="#000" stroke-width="2.6"/>
<path d="M351.0,2444.6 L302.09,2240.79 A209.6,209.6 0 0 0 190.58,2309.70 Z" fill="#EDC01F" stroke="#000" stroke-width="2.6" stroke-linejoin="round"/>
<line x1="240.81" y1="2266.30" x2="235.30" y2="2257.39" stroke="#000" stroke-width="2.6"/>
<path d="M351.0,2444.6 L190.58,2309.70 A209.6,209.6 0 0 0 188.86,2311.78 Z" fill="#1F9142" stroke="#000" stroke-width="2.6" stroke-linejoin="round"/>
<path d="M351.0,2444.6 L188.86,2311.78 A209.6,209.6 0 0 0 160.41,2531.82 Z" fill="#A0A0A0" stroke="#000" stroke-width="2.6" stroke-linejoin="round"/>
<line x1="143.13" y1="2417.73" x2="132.74" y2="2416.38" stroke="#000" stroke-width="2.6"/>
<path d="M351.0,2444.6 L160.41,2531.82 A209.6,209.6 0 0 0 560.60,2444.60 Z" fill="#D0534E" stroke="#000" stroke-width="2.6" stroke-linejoin="round"/>
<line x1="395.63" y1="2649.39" x2="397.87" y2="2659.63" stroke="#000" stroke-width="2.6"/>
<text transform="translate(494.0,2273.2) scale(0.965,1)" font-size="44.56" text-anchor="start" font-weight="normal" fill="#1a1a1a">28.03</text>
<text transform="translate(163.6,2243.4) scale(0.965,1)" font-size="44.56" text-anchor="start" font-weight="normal" fill="#1a1a1a">9.87</text>
<text transform="translate(26.0,2424.9) scale(0.965,1)" font-size="44.56" text-anchor="start" font-weight="normal" fill="#1a1a1a">17.31</text>
<text transform="translate(387.3,2700.0) scale(0.965,1)" font-size="44.56" text-anchor="start" font-weight="normal" fill="#1a1a1a">42.09</text>
<text transform="translate(354.8,2173.5) scale(0.935,1)" font-size="63.96" text-anchor="middle" font-weight="bold" fill="#000">UC</text>
<rect x="744.80" y="2284.50" width="38.00" height="32.00" fill="#1072BD"/>
<text transform="translate(806.0,2319.2) scale(0.965,1)" font-size="54.72" text-anchor="start" font-weight="normal" fill="#1a1a1a">Actinobacteria</text>
<rect x="744.80" y="2347.70" width="38.00" height="32.00" fill="#EDC01F"/>
<text transform="translate(806.0,2382.4) scale(0.965,1)" font-size="54.72" text-anchor="start" font-weight="normal" fill="#1a1a1a">Bacteroidetes</text>
<rect x="744.80" y="2410.90" width="38.00" height="32.00" fill="#1F9142"/>
<text transform="translate(806.0,2445.6) scale(0.965,1)" font-size="54.72" text-anchor="start" font-weight="normal" fill="#1a1a1a">Chloroflexi</text>
<rect x="744.80" y="2474.10" width="38.00" height="32.00" fill="#8C8C8C"/>
<text transform="translate(806.0,2508.8) scale(0.965,1)" font-size="54.72" text-anchor="start" font-weight="normal" fill="#1a1a1a">Firmicutes</text>
<rect x="744.80" y="2537.30" width="38.00" height="32.00" fill="#D0534E"/>
<text transform="translate(806.0,2572.0) scale(0.965,1)" font-size="54.72" text-anchor="start" font-weight="normal" fill="#1a1a1a">Proteobacteria</text>
<text transform="translate(1319.5,1390.5)  scale(0.9,1)" font-size="76" letter-spacing="1.5" font-weight="bold" fill="#231f20">(D)</text>
<rect x="1827.5" y="1463" width="730.5" height="1287" fill="none" stroke="#4a4a4a" stroke-width="3"/>
<rect x="1827.5" y="1377.8" width="730.5" height="85.20000000000005" fill="#EBCB5B" stroke="#333" stroke-width="3"/>
<text transform="translate(2211.8,1434.5) scale(0.965,1)" font-size="57.62" text-anchor="middle" font-weight="normal" fill="#1a1a1a">Cervical Star</text>
<circle cx="1853.2" cy="1505.5" r="6.5" fill="#404040"/>
<circle cx="1898.5" cy="1505.5" r="7.3" fill="#404040"/>
<circle cx="1943.8" cy="1505.5" r="6.5" fill="#404040"/>
<circle cx="1989.0" cy="1505.5" r="7.3" fill="#404040"/>
<circle cx="2034.3" cy="1505.5" r="5.7" fill="#404040"/>
<circle cx="2079.6" cy="1505.5" r="6.5" fill="#404040"/>
<circle cx="2170.2" cy="1505.5" r="7.3" fill="#404040"/>
<circle cx="2215.4" cy="1505.5" r="8.3" fill="#404040"/>
<circle cx="2260.7" cy="1505.5" r="6.5" fill="#404040"/>
<circle cx="2306.0" cy="1505.5" r="6.5" fill="#404040"/>
<circle cx="2396.6" cy="1505.5" r="7.3" fill="#404040"/>
<circle cx="2441.8" cy="1505.5" r="10.3" fill="#404040"/>
<circle cx="2532.4" cy="1505.5" r="6.5" fill="#404040"/>
<circle cx="1853.2" cy="1576.3" r="8.3" fill="#404040"/>
<circle cx="1898.5" cy="1576.3" r="4.9" fill="#404040"/>
<circle cx="1943.8" cy="1576.3" r="7.3" fill="#404040"/>
<circle cx="1989.0" cy="1576.3" r="4.9" fill="#404040"/>
<circle cx="2034.3" cy="1576.3" r="7.3" fill="#404040"/>
<circle cx="2079.6" cy="1576.3" r="6.5" fill="#404040"/>
<circle cx="2170.2" cy="1576.3" r="7.3" fill="#404040"/>
<circle cx="2215.4" cy="1576.3" r="8.3" fill="#404040"/>
<circle cx="2260.7" cy="1576.3" r="5.7" fill="#404040"/>
<circle cx="2351.3" cy="1576.3" r="5.7" fill="#404040"/>
<circle cx="2396.6" cy="1576.3" r="7.3" fill="#404040"/>
<circle cx="2441.8" cy="1576.3" r="7.3" fill="#404040"/>
<circle cx="2487.1" cy="1576.3" r="4.9" fill="#404040"/>
<circle cx="2532.4" cy="1576.3" r="6.5" fill="#404040"/>
<circle cx="1853.2" cy="1647.2" r="8.3" fill="#404040"/>
<circle cx="1898.5" cy="1647.2" r="12.6" fill="#404040"/>
<circle cx="1943.8" cy="1647.2" r="7.3" fill="#404040"/>
<circle cx="1989.0" cy="1647.2" r="7.3" fill="#404040"/>
<circle cx="2034.3" cy="1647.2" r="10.3" fill="#404040"/>
<circle cx="2079.6" cy="1647.2" r="10.3" fill="#404040"/>
<circle cx="2170.2" cy="1647.2" r="7.3" fill="#404040"/>
<circle cx="2215.4" cy="1647.2" r="8.3" fill="#404040"/>
<circle cx="2260.7" cy="1647.2" r="6.5" fill="#404040"/>
<circle cx="2306.0" cy="1647.2" r="7.3" fill="#404040"/>
<circle cx="2351.3" cy="1647.2" r="6.5" fill="#404040"/>
<circle cx="2396.6" cy="1647.2" r="7.3" fill="#404040"/>
<circle cx="2441.8" cy="1647.2" r="7.3" fill="#404040"/>
<circle cx="2487.1" cy="1647.2" r="6.5" fill="#404040"/>
<circle cx="2532.4" cy="1647.2" r="7.3" fill="#404040"/>
<circle cx="1853.2" cy="1718.0" r="9.3" fill="#404040"/>
<circle cx="1898.5" cy="1718.0" r="5.7" fill="#404040"/>
<circle cx="1943.8" cy="1718.0" r="5.7" fill="#404040"/>
<circle cx="1989.0" cy="1718.0" r="7.3" fill="#404040"/>
<circle cx="2034.3" cy="1718.0" r="7.3" fill="#404040"/>
<circle cx="2079.6" cy="1718.0" r="8.3" fill="#404040"/>
<circle cx="2170.2" cy="1718.0" r="8.3" fill="#404040"/>
<circle cx="2215.4" cy="1718.0" r="9.3" fill="#404040"/>
<circle cx="2260.7" cy="1718.0" r="8.3" fill="#404040"/>
<circle cx="2351.3" cy="1718.0" r="4.9" fill="#404040"/>
<circle cx="2396.6" cy="1718.0" r="7.3" fill="#404040"/>
<circle cx="2441.8" cy="1718.0" r="10.3" fill="#404040"/>
<circle cx="2487.1" cy="1718.0" r="11.5" fill="#404040"/>
<circle cx="2532.4" cy="1718.0" r="8.3" fill="#404040"/>
<circle cx="1853.2" cy="1788.8" r="9.3" fill="#404040"/>
<circle cx="1898.5" cy="1788.8" r="12.6" fill="#404040"/>
<circle cx="1943.8" cy="1788.8" r="8.3" fill="#404040"/>
<circle cx="1989.0" cy="1788.8" r="8.3" fill="#404040"/>
<circle cx="2034.3" cy="1788.8" r="13.8" fill="#404040"/>
<circle cx="2079.6" cy="1788.8" r="13.8" fill="#404040"/>
<circle cx="2170.2" cy="1788.8" r="9.3" fill="#404040"/>
<circle cx="2215.4" cy="1788.8" r="11.5" fill="#404040"/>
<circle cx="2260.7" cy="1788.8" r="6.5" fill="#404040"/>
<circle cx="2306.0" cy="1788.8" r="7.3" fill="#404040"/>
<circle cx="2351.3" cy="1788.8" r="6.5" fill="#404040"/>
<circle cx="2396.6" cy="1788.8" r="12.6" fill="#404040"/>
<circle cx="2441.8" cy="1788.8" r="10.3" fill="#404040"/>
<circle cx="2487.1" cy="1788.8" r="7.3" fill="#404040"/>
<circle cx="2532.4" cy="1788.8" r="8.3" fill="#404040"/>
<circle cx="1853.2" cy="1859.7" r="4.9" fill="#404040"/>
<circle cx="1898.5" cy="1859.7" r="6.5" fill="#404040"/>
<circle cx="1989.0" cy="1859.7" r="4.9" fill="#404040"/>
<circle cx="2034.3" cy="1859.7" r="4.9" fill="#404040"/>
<circle cx="2079.6" cy="1859.7" r="5.7" fill="#404040"/>
<circle cx="2396.6" cy="1859.7" r="4.9" fill="#404040"/>
<circle cx="2441.8" cy="1859.7" r="5.7" fill="#404040"/>
<circle cx="1853.2" cy="1930.5" r="7.3" fill="#404040"/>
<circle cx="1943.8" cy="1930.5" r="5.7" fill="#404040"/>
<circle cx="2034.3" cy="1930.5" r="5.7" fill="#404040"/>
<circle cx="2079.6" cy="1930.5" r="5.7" fill="#404040"/>
<circle cx="2215.4" cy="1930.5" r="5.7" fill="#404040"/>
<circle cx="2260.7" cy="1930.5" r="5.7" fill="#404040"/>
<circle cx="2351.3" cy="1930.5" r="6.5" fill="#404040"/>
<circle cx="2396.6" cy="1930.5" r="4.9" fill="#404040"/>
<circle cx="2441.8" cy="1930.5" r="6.5" fill="#404040"/>
<circle cx="2532.4" cy="1930.5" r="5.7" fill="#404040"/>
<circle cx="1853.2" cy="2001.3" r="5.7" fill="#404040"/>
<circle cx="2034.3" cy="2001.3" r="5.7" fill="#404040"/>
<circle cx="2079.6" cy="2001.3" r="5.7" fill="#404040"/>
<circle cx="2215.4" cy="2001.3" r="13.8" fill="#404040"/>
<circle cx="2441.8" cy="2001.3" r="6.5" fill="#404040"/>
<circle cx="1853.2" cy="2072.1" r="6.5" fill="#404040"/>
<circle cx="1898.5" cy="2072.1" r="9.3" fill="#404040"/>
<circle cx="1943.8" cy="2072.1" r="7.3" fill="#404040"/>
<circle cx="1989.0" cy="2072.1" r="7.3" fill="#404040"/>
<circle cx="2034.3" cy="2072.1" r="8.3" fill="#404040"/>
<circle cx="2079.6" cy="2072.1" r="9.3" fill="#404040"/>
<circle cx="2170.2" cy="2072.1" r="8.3" fill="#404040"/>
<circle cx="2215.4" cy="2072.1" r="9.3" fill="#404040"/>
<circle cx="2260.7" cy="2072.1" r="4.9" fill="#404040"/>
<circle cx="2306.0" cy="2072.1" r="6.5" fill="#404040"/>
<circle cx="2351.3" cy="2072.1" r="6.5" fill="#404040"/>
<circle cx="2396.6" cy="2072.1" r="9.3" fill="#404040"/>
<circle cx="2441.8" cy="2072.1" r="7.3" fill="#404040"/>
<circle cx="2487.1" cy="2072.1" r="7.3" fill="#404040"/>
<circle cx="2532.4" cy="2072.1" r="7.3" fill="#404040"/>
<circle cx="1853.2" cy="2143.0" r="11.5" fill="#404040"/>
<circle cx="1898.5" cy="2143.0" r="9.3" fill="#404040"/>
<circle cx="1943.8" cy="2143.0" r="8.3" fill="#404040"/>
<circle cx="1989.0" cy="2143.0" r="9.3" fill="#404040"/>
<circle cx="2034.3" cy="2143.0" r="10.3" fill="#404040"/>
<circle cx="2079.6" cy="2143.0" r="12.6" fill="#404040"/>
<circle cx="2124.9" cy="2143.0" r="5.7" fill="#404040"/>
<circle cx="2170.2" cy="2143.0" r="9.3" fill="#404040"/>
<circle cx="2215.4" cy="2143.0" r="10.3" fill="#404040"/>
<circle cx="2260.7" cy="2143.0" r="6.5" fill="#404040"/>
<circle cx="2306.0" cy="2143.0" r="7.3" fill="#404040"/>
<circle cx="2351.3" cy="2143.0" r="6.5" fill="#404040"/>
<circle cx="2396.6" cy="2143.0" r="12.6" fill="#404040"/>
<circle cx="2441.8" cy="2143.0" r="10.3" fill="#404040"/>
<circle cx="2487.1" cy="2143.0" r="8.3" fill="#404040"/>
<circle cx="2532.4" cy="2143.0" r="10.3" fill="#404040"/>
<circle cx="1853.2" cy="2213.8" r="6.5" fill="#404040"/>
<circle cx="1898.5" cy="2213.8" r="6.5" fill="#404040"/>
<circle cx="1943.8" cy="2213.8" r="5.7" fill="#404040"/>
<circle cx="1989.0" cy="2213.8" r="8.3" fill="#404040"/>
<circle cx="2034.3" cy="2213.8" r="7.3" fill="#404040"/>
<circle cx="2079.6" cy="2213.8" r="5.7" fill="#404040"/>
<circle cx="2170.2" cy="2213.8" r="6.5" fill="#404040"/>
<circle cx="2215.4" cy="2213.8" r="5.7" fill="#404040"/>
<circle cx="2351.3" cy="2213.8" r="8.3" fill="#404040"/>
<circle cx="2396.6" cy="2213.8" r="7.3" fill="#404040"/>
<circle cx="2441.8" cy="2213.8" r="5.7" fill="#404040"/>
<circle cx="1853.2" cy="2284.6" r="8.3" fill="#404040"/>
<circle cx="1898.5" cy="2284.6" r="7.3" fill="#404040"/>
<circle cx="1943.8" cy="2284.6" r="7.3" fill="#404040"/>
<circle cx="1989.0" cy="2284.6" r="7.3" fill="#404040"/>
<circle cx="2034.3" cy="2284.6" r="7.3" fill="#404040"/>
<circle cx="2079.6" cy="2284.6" r="8.3" fill="#404040"/>
<circle cx="2124.9" cy="2284.6" r="5.7" fill="#404040"/>
<circle cx="2170.2" cy="2284.6" r="7.3" fill="#404040"/>
<circle cx="2215.4" cy="2284.6" r="7.3" fill="#404040"/>
<circle cx="2396.6" cy="2284.6" r="8.3" fill="#404040"/>
<circle cx="2441.8" cy="2284.6" r="7.3" fill="#404040"/>
<circle cx="2487.1" cy="2284.6" r="6.5" fill="#404040"/>
<circle cx="2532.4" cy="2284.6" r="6.5" fill="#404040"/>
<circle cx="1853.2" cy="2355.5" r="8.3" fill="#404040"/>
<circle cx="1898.5" cy="2355.5" r="6.5" fill="#404040"/>
<circle cx="1943.8" cy="2355.5" r="7.3" fill="#404040"/>
<circle cx="1989.0" cy="2355.5" r="6.5" fill="#404040"/>
<circle cx="2034.3" cy="2355.5" r="7.3" fill="#404040"/>
<circle cx="2079.6" cy="2355.5" r="8.3" fill="#404040"/>
<circle cx="2170.2" cy="2355.5" r="7.3" fill="#404040"/>
<circle cx="2215.4" cy="2355.5" r="9.3" fill="#404040"/>
<circle cx="2260.7" cy="2355.5" r="7.3" fill="#404040"/>
<circle cx="2306.0" cy="2355.5" r="5.7" fill="#404040"/>
<circle cx="2351.3" cy="2355.5" r="5.7" fill="#404040"/>
<circle cx="2396.6" cy="2355.5" r="8.3" fill="#404040"/>
<circle cx="2441.8" cy="2355.5" r="12.6" fill="#404040"/>
<circle cx="2487.1" cy="2355.5" r="6.5" fill="#404040"/>
<circle cx="2532.4" cy="2355.5" r="10.3" fill="#404040"/>
<circle cx="1853.2" cy="2426.3" r="8.3" fill="#404040"/>
<circle cx="1898.5" cy="2426.3" r="5.7" fill="#404040"/>
<circle cx="1989.0" cy="2426.3" r="5.7" fill="#404040"/>
<circle cx="2079.6" cy="2426.3" r="5.7" fill="#404040"/>
<circle cx="2396.6" cy="2426.3" r="7.3" fill="#404040"/>
<circle cx="2441.8" cy="2426.3" r="7.3" fill="#404040"/>
<circle cx="2487.1" cy="2426.3" r="4.9" fill="#404040"/>
<circle cx="2532.4" cy="2426.3" r="4.9" fill="#404040"/>
<circle cx="1853.2" cy="2497.1" r="5.7" fill="#404040"/>
<circle cx="2079.6" cy="2497.1" r="6.5" fill="#404040"/>
<circle cx="2396.6" cy="2497.1" r="5.7" fill="#404040"/>
<circle cx="2441.8" cy="2497.1" r="6.5" fill="#404040"/>
<circle cx="1853.2" cy="2567.9" r="8.3" fill="#404040"/>
<circle cx="1898.5" cy="2567.9" r="7.3" fill="#404040"/>
<circle cx="1943.8" cy="2567.9" r="6.5" fill="#404040"/>
<circle cx="1989.0" cy="2567.9" r="7.3" fill="#404040"/>
<circle cx="2034.3" cy="2567.9" r="5.7" fill="#404040"/>
<circle cx="2079.6" cy="2567.9" r="7.3" fill="#404040"/>
<circle cx="2170.2" cy="2567.9" r="6.5" fill="#404040"/>
<circle cx="2215.4" cy="2567.9" r="7.3" fill="#404040"/>
<circle cx="2306.0" cy="2567.9" r="6.5" fill="#404040"/>
<circle cx="2351.3" cy="2567.9" r="6.5" fill="#404040"/>
<circle cx="2396.6" cy="2567.9" r="8.3" fill="#404040"/>
<circle cx="2441.8" cy="2567.9" r="8.3" fill="#404040"/>
<circle cx="2487.1" cy="2567.9" r="6.5" fill="#404040"/>
<circle cx="2532.4" cy="2567.9" r="7.3" fill="#404040"/>
<circle cx="1853.2" cy="2638.8" r="10.3" fill="#404040"/>
<circle cx="1898.5" cy="2638.8" r="7.3" fill="#404040"/>
<circle cx="1943.8" cy="2638.8" r="8.3" fill="#404040"/>
<circle cx="1989.0" cy="2638.8" r="7.3" fill="#404040"/>
<circle cx="2034.3" cy="2638.8" r="7.3" fill="#404040"/>
<circle cx="2079.6" cy="2638.8" r="8.3" fill="#404040"/>
<circle cx="2124.9" cy="2638.8" r="6.5" fill="#404040"/>
<circle cx="2170.2" cy="2638.8" r="9.3" fill="#404040"/>
<circle cx="2215.4" cy="2638.8" r="10.3" fill="#404040"/>
<circle cx="2260.7" cy="2638.8" r="7.3" fill="#404040"/>
<circle cx="2306.0" cy="2638.8" r="7.3" fill="#404040"/>
<circle cx="2351.3" cy="2638.8" r="5.7" fill="#404040"/>
<circle cx="2396.6" cy="2638.8" r="10.3" fill="#404040"/>
<circle cx="2441.8" cy="2638.8" r="11.5" fill="#404040"/>
<circle cx="2487.1" cy="2638.8" r="6.5" fill="#404040"/>
<circle cx="2532.4" cy="2638.8" r="7.3" fill="#404040"/>
<circle cx="1853.2" cy="2709.6" r="9.3" fill="#404040"/>
<circle cx="1898.5" cy="2709.6" r="9.3" fill="#404040"/>
<circle cx="1943.8" cy="2709.6" r="9.3" fill="#404040"/>
<circle cx="1989.0" cy="2709.6" r="8.3" fill="#404040"/>
<circle cx="2034.3" cy="2709.6" r="8.3" fill="#404040"/>
<circle cx="2079.6" cy="2709.6" r="8.3" fill="#404040"/>
<circle cx="2170.2" cy="2709.6" r="10.3" fill="#404040"/>
<circle cx="2215.4" cy="2709.6" r="12.6" fill="#404040"/>
<circle cx="2260.7" cy="2709.6" r="7.3" fill="#404040"/>
<circle cx="2306.0" cy="2709.6" r="5.7" fill="#404040"/>
<circle cx="2351.3" cy="2709.6" r="6.5" fill="#404040"/>
<circle cx="2396.6" cy="2709.6" r="9.3" fill="#404040"/>
<circle cx="2441.8" cy="2709.6" r="11.5" fill="#404040"/>
<circle cx="2487.1" cy="2709.6" r="6.5" fill="#404040"/>
<circle cx="2532.4" cy="2709.6" r="7.3" fill="#404040"/>
<rect x="2588.5" y="1463" width="730.5" height="1287" fill="none" stroke="#4a4a4a" stroke-width="3"/>
<rect x="2588.5" y="1377.8" width="730.5" height="85.20000000000005" fill="#5BC5CE" stroke="#333" stroke-width="3"/>
<text transform="translate(2971.3,1434.5) scale(0.965,1)" font-size="57.62" text-anchor="middle" font-weight="normal" fill="#1a1a1a">Pregnant Horn</text>
<circle cx="2664.1" cy="1505.5" r="6.5" fill="#404040"/>
<circle cx="2712.3" cy="1505.5" r="5.7" fill="#404040"/>
<circle cx="2760.6" cy="1505.5" r="6.5" fill="#404040"/>
<circle cx="2808.8" cy="1505.5" r="6.5" fill="#404040"/>
<circle cx="2857.1" cy="1505.5" r="5.7" fill="#404040"/>
<circle cx="2905.4" cy="1505.5" r="8.3" fill="#404040"/>
<circle cx="2953.6" cy="1505.5" r="7.3" fill="#404040"/>
<circle cx="3001.9" cy="1505.5" r="8.3" fill="#404040"/>
<circle cx="3050.1" cy="1505.5" r="7.3" fill="#404040"/>
<circle cx="3194.9" cy="1505.5" r="7.3" fill="#404040"/>
<circle cx="3243.2" cy="1505.5" r="7.3" fill="#404040"/>
<circle cx="3291.4" cy="1505.5" r="6.5" fill="#404040"/>
<circle cx="2615.8" cy="1576.3" r="5.7" fill="#404040"/>
<circle cx="2712.3" cy="1576.3" r="8.3" fill="#404040"/>
<circle cx="2760.6" cy="1576.3" r="6.5" fill="#404040"/>
<circle cx="2808.8" cy="1576.3" r="7.3" fill="#404040"/>
<circle cx="2857.1" cy="1576.3" r="5.7" fill="#404040"/>
<circle cx="2905.4" cy="1576.3" r="6.5" fill="#404040"/>
<circle cx="2953.6" cy="1576.3" r="6.5" fill="#404040"/>
<circle cx="3050.1" cy="1576.3" r="6.5" fill="#404040"/>
<circle cx="3098.4" cy="1576.3" r="6.5" fill="#404040"/>
<circle cx="3194.9" cy="1576.3" r="7.3" fill="#404040"/>
<circle cx="3291.4" cy="1576.3" r="6.5" fill="#404040"/>
<circle cx="2615.8" cy="1647.2" r="5.7" fill="#404040"/>
<circle cx="2664.1" cy="1647.2" r="7.3" fill="#404040"/>
<circle cx="2712.3" cy="1647.2" r="6.5" fill="#404040"/>
<circle cx="2760.6" cy="1647.2" r="8.3" fill="#404040"/>
<circle cx="2808.8" cy="1647.2" r="8.3" fill="#404040"/>
<circle cx="2857.1" cy="1647.2" r="8.3" fill="#404040"/>
<circle cx="2905.4" cy="1647.2" r="9.3" fill="#404040"/>
<circle cx="2953.6" cy="1647.2" r="8.3" fill="#404040"/>
<circle cx="3001.9" cy="1647.2" r="7.3" fill="#404040"/>
<circle cx="3050.1" cy="1647.2" r="10.3" fill="#404040"/>
<circle cx="3098.4" cy="1647.2" r="7.3" fill="#404040"/>
<circle cx="3146.7" cy="1647.2" r="5.7" fill="#404040"/>
<circle cx="3194.9" cy="1647.2" r="9.3" fill="#404040"/>
<circle cx="3243.2" cy="1647.2" r="8.3" fill="#404040"/>
<circle cx="3291.4" cy="1647.2" r="7.3" fill="#404040"/>
<circle cx="2615.8" cy="1718.0" r="7.3" fill="#404040"/>
<circle cx="2664.1" cy="1718.0" r="7.3" fill="#404040"/>
<circle cx="2712.3" cy="1718.0" r="7.3" fill="#404040"/>
<circle cx="2760.6" cy="1718.0" r="7.3" fill="#404040"/>
<circle cx="2808.8" cy="1718.0" r="8.3" fill="#404040"/>
<circle cx="2857.1" cy="1718.0" r="6.5" fill="#404040"/>
<circle cx="2905.4" cy="1718.0" r="7.3" fill="#404040"/>
<circle cx="2953.6" cy="1718.0" r="9.3" fill="#404040"/>
<circle cx="3001.9" cy="1718.0" r="10.3" fill="#404040"/>
<circle cx="3050.1" cy="1718.0" r="7.3" fill="#404040"/>
<circle cx="3098.4" cy="1718.0" r="7.3" fill="#404040"/>
<circle cx="3146.7" cy="1718.0" r="6.5" fill="#404040"/>
<circle cx="3194.9" cy="1718.0" r="7.3" fill="#404040"/>
<circle cx="3243.2" cy="1718.0" r="8.3" fill="#404040"/>
<circle cx="3291.4" cy="1718.0" r="6.5" fill="#404040"/>
<circle cx="2615.8" cy="1788.8" r="7.3" fill="#404040"/>
<circle cx="2664.1" cy="1788.8" r="10.3" fill="#404040"/>
<circle cx="2712.3" cy="1788.8" r="7.3" fill="#404040"/>
<circle cx="2760.6" cy="1788.8" r="8.3" fill="#404040"/>
<circle cx="2808.8" cy="1788.8" r="13.8" fill="#404040"/>
<circle cx="2857.1" cy="1788.8" r="12.6" fill="#404040"/>
<circle cx="2905.4" cy="1788.8" r="9.3" fill="#404040"/>
<circle cx="2953.6" cy="1788.8" r="11.5" fill="#404040"/>
<circle cx="3001.9" cy="1788.8" r="7.3" fill="#404040"/>
<circle cx="3050.1" cy="1788.8" r="11.5" fill="#404040"/>
<circle cx="3098.4" cy="1788.8" r="6.5" fill="#404040"/>
<circle cx="3146.7" cy="1788.8" r="5.7" fill="#404040"/>
<circle cx="3194.9" cy="1788.8" r="11.5" fill="#404040"/>
<circle cx="3243.2" cy="1788.8" r="8.3" fill="#404040"/>
<circle cx="3291.4" cy="1788.8" r="7.3" fill="#404040"/>
<circle cx="2615.8" cy="1859.7" r="7.3" fill="#404040"/>
<circle cx="2664.1" cy="1859.7" r="6.5" fill="#404040"/>
<circle cx="2712.3" cy="1859.7" r="7.3" fill="#404040"/>
<circle cx="2760.6" cy="1859.7" r="6.5" fill="#404040"/>
<circle cx="2808.8" cy="1859.7" r="8.3" fill="#404040"/>
<circle cx="2857.1" cy="1859.7" r="7.3" fill="#404040"/>
<circle cx="2905.4" cy="1859.7" r="6.5" fill="#404040"/>
<circle cx="2953.6" cy="1859.7" r="7.3" fill="#404040"/>
<circle cx="3001.9" cy="1859.7" r="5.7" fill="#404040"/>
<circle cx="3050.1" cy="1859.7" r="6.5" fill="#404040"/>
<circle cx="3098.4" cy="1859.7" r="6.5" fill="#404040"/>
<circle cx="3146.7" cy="1859.7" r="5.7" fill="#404040"/>
<circle cx="3194.9" cy="1859.7" r="7.3" fill="#404040"/>
<circle cx="3243.2" cy="1859.7" r="6.5" fill="#404040"/>
<circle cx="3291.4" cy="1859.7" r="6.5" fill="#404040"/>
<circle cx="2712.3" cy="1930.5" r="6.5" fill="#404040"/>
<circle cx="2953.6" cy="1930.5" r="6.5" fill="#404040"/>
<circle cx="3050.1" cy="1930.5" r="6.5" fill="#404040"/>
<circle cx="3194.9" cy="1930.5" r="6.5" fill="#404040"/>
<circle cx="3243.2" cy="1930.5" r="6.5" fill="#404040"/>
<circle cx="3291.4" cy="1930.5" r="6.5" fill="#404040"/>
<circle cx="2808.8" cy="2001.3" r="6.5" fill="#404040"/>
<circle cx="2857.1" cy="2001.3" r="5.7" fill="#404040"/>
<circle cx="2905.4" cy="2001.3" r="5.7" fill="#404040"/>
<circle cx="2953.6" cy="2001.3" r="11.5" fill="#404040"/>
<circle cx="3001.9" cy="2001.3" r="5.7" fill="#404040"/>
<circle cx="3050.1" cy="2001.3" r="8.3" fill="#404040"/>
<circle cx="2615.8" cy="2072.1" r="5.7" fill="#404040"/>
<circle cx="2664.1" cy="2072.1" r="7.3" fill="#404040"/>
<circle cx="2712.3" cy="2072.1" r="6.5" fill="#404040"/>
<circle cx="2760.6" cy="2072.1" r="6.5" fill="#404040"/>
<circle cx="2808.8" cy="2072.1" r="8.3" fill="#404040"/>
<circle cx="2857.1" cy="2072.1" r="8.3" fill="#404040"/>
<circle cx="2905.4" cy="2072.1" r="7.3" fill="#404040"/>
<circle cx="2953.6" cy="2072.1" r="8.3" fill="#404040"/>
<circle cx="3001.9" cy="2072.1" r="6.5" fill="#404040"/>
<circle cx="3050.1" cy="2072.1" r="9.3" fill="#404040"/>
<circle cx="3194.9" cy="2072.1" r="9.3" fill="#404040"/>
<circle cx="3243.2" cy="2072.1" r="7.3" fill="#404040"/>
<circle cx="3291.4" cy="2072.1" r="6.5" fill="#404040"/>
<circle cx="2615.8" cy="2143.0" r="8.3" fill="#404040"/>
<circle cx="2664.1" cy="2143.0" r="8.3" fill="#404040"/>
<circle cx="2712.3" cy="2143.0" r="8.3" fill="#404040"/>
<circle cx="2760.6" cy="2143.0" r="9.3" fill="#404040"/>
<circle cx="2808.8" cy="2143.0" r="11.5" fill="#404040"/>
<circle cx="2857.1" cy="2143.0" r="10.3" fill="#404040"/>
<circle cx="2905.4" cy="2143.0" r="8.3" fill="#404040"/>
<circle cx="2953.6" cy="2143.0" r="11.5" fill="#404040"/>
<circle cx="3001.9" cy="2143.0" r="8.3" fill="#404040"/>
<circle cx="3050.1" cy="2143.0" r="11.5" fill="#404040"/>
<circle cx="3098.4" cy="2143.0" r="6.5" fill="#404040"/>
<circle cx="3146.7" cy="2143.0" r="6.5" fill="#404040"/>
<circle cx="3194.9" cy="2143.0" r="12.6" fill="#404040"/>
<circle cx="3243.2" cy="2143.0" r="10.3" fill="#404040"/>
<circle cx="3291.4" cy="2143.0" r="9.3" fill="#404040"/>
<circle cx="2808.8" cy="2213.8" r="6.5" fill="#404040"/>
<circle cx="2905.4" cy="2213.8" r="5.7" fill="#404040"/>
<circle cx="2953.6" cy="2213.8" r="7.3" fill="#404040"/>
<circle cx="3050.1" cy="2213.8" r="6.5" fill="#404040"/>
<circle cx="3194.9" cy="2213.8" r="7.3" fill="#404040"/>
<circle cx="3243.2" cy="2213.8" r="5.7" fill="#404040"/>
<circle cx="2615.8" cy="2284.6" r="7.3" fill="#404040"/>
<circle cx="2664.1" cy="2284.6" r="6.5" fill="#404040"/>
<circle cx="2712.3" cy="2284.6" r="5.7" fill="#404040"/>
<circle cx="2760.6" cy="2284.6" r="6.5" fill="#404040"/>
<circle cx="2808.8" cy="2284.6" r="6.5" fill="#404040"/>
<circle cx="2857.1" cy="2284.6" r="6.5" fill="#404040"/>
<circle cx="2905.4" cy="2284.6" r="6.5" fill="#404040"/>
<circle cx="2953.6" cy="2284.6" r="7.3" fill="#404040"/>
<circle cx="3001.9" cy="2284.6" r="6.5" fill="#404040"/>
<circle cx="3050.1" cy="2284.6" r="7.3" fill="#404040"/>
<circle cx="3098.4" cy="2284.6" r="5.7" fill="#404040"/>
<circle cx="3194.9" cy="2284.6" r="8.3" fill="#404040"/>
<circle cx="3243.2" cy="2284.6" r="7.3" fill="#404040"/>
<circle cx="3291.4" cy="2284.6" r="5.7" fill="#404040"/>
<circle cx="2615.8" cy="2355.5" r="6.5" fill="#404040"/>
<circle cx="2664.1" cy="2355.5" r="6.5" fill="#404040"/>
<circle cx="2712.3" cy="2355.5" r="6.5" fill="#404040"/>
<circle cx="2760.6" cy="2355.5" r="7.3" fill="#404040"/>
<circle cx="2808.8" cy="2355.5" r="7.3" fill="#404040"/>
<circle cx="2857.1" cy="2355.5" r="6.5" fill="#404040"/>
<circle cx="2905.4" cy="2355.5" r="6.5" fill="#404040"/>
<circle cx="2953.6" cy="2355.5" r="8.3" fill="#404040"/>
<circle cx="3001.9" cy="2355.5" r="8.3" fill="#404040"/>
<circle cx="3050.1" cy="2355.5" r="7.3" fill="#404040"/>
<circle cx="3098.4" cy="2355.5" r="6.5" fill="#404040"/>
<circle cx="3146.7" cy="2355.5" r="6.5" fill="#404040"/>
<circle cx="3194.9" cy="2355.5" r="8.3" fill="#404040"/>
<circle cx="3243.2" cy="2355.5" r="8.3" fill="#404040"/>
<circle cx="3291.4" cy="2355.5" r="8.3" fill="#404040"/>
<circle cx="2664.1" cy="2426.3" r="6.5" fill="#404040"/>
<circle cx="2760.6" cy="2426.3" r="6.5" fill="#404040"/>
<circle cx="2808.8" cy="2426.3" r="5.7" fill="#404040"/>
<circle cx="2905.4" cy="2426.3" r="5.7" fill="#404040"/>
<circle cx="2953.6" cy="2426.3" r="6.5" fill="#404040"/>
<circle cx="3001.9" cy="2426.3" r="5.7" fill="#404040"/>
<circle cx="3050.1" cy="2426.3" r="6.5" fill="#404040"/>
<circle cx="3098.4" cy="2426.3" r="5.7" fill="#404040"/>
<circle cx="3146.7" cy="2426.3" r="5.7" fill="#404040"/>
<circle cx="3194.9" cy="2426.3" r="8.3" fill="#404040"/>
<circle cx="3243.2" cy="2426.3" r="7.3" fill="#404040"/>
<circle cx="2712.3" cy="2497.1" r="6.5" fill="#404040"/>
<circle cx="2953.6" cy="2497.1" r="5.7" fill="#404040"/>
<circle cx="3194.9" cy="2497.1" r="6.5" fill="#404040"/>
<circle cx="3243.2" cy="2497.1" r="5.7" fill="#404040"/>
<circle cx="2615.8" cy="2567.9" r="8.3" fill="#404040"/>
<circle cx="2664.1" cy="2567.9" r="6.5" fill="#404040"/>
<circle cx="2712.3" cy="2567.9" r="5.7" fill="#404040"/>
<circle cx="2760.6" cy="2567.9" r="7.3" fill="#404040"/>
<circle cx="2808.8" cy="2567.9" r="6.5" fill="#404040"/>
<circle cx="2857.1" cy="2567.9" r="6.5" fill="#404040"/>
<circle cx="2905.4" cy="2567.9" r="6.5" fill="#404040"/>
<circle cx="2953.6" cy="2567.9" r="7.3" fill="#404040"/>
<circle cx="3001.9" cy="2567.9" r="5.7" fill="#404040"/>
<circle cx="3050.1" cy="2567.9" r="6.5" fill="#404040"/>
<circle cx="3098.4" cy="2567.9" r="5.7" fill="#404040"/>
<circle cx="3146.7" cy="2567.9" r="5.7" fill="#404040"/>
<circle cx="3194.9" cy="2567.9" r="9.3" fill="#404040"/>
<circle cx="3243.2" cy="2567.9" r="8.3" fill="#404040"/>
<circle cx="3291.4" cy="2567.9" r="6.5" fill="#404040"/>
<circle cx="2615.8" cy="2638.8" r="6.5" fill="#404040"/>
<circle cx="2664.1" cy="2638.8" r="8.3" fill="#404040"/>
<circle cx="2712.3" cy="2638.8" r="7.3" fill="#404040"/>
<circle cx="2760.6" cy="2638.8" r="7.3" fill="#404040"/>
<circle cx="2808.8" cy="2638.8" r="6.5" fill="#404040"/>
<circle cx="2857.1" cy="2638.8" r="6.5" fill="#404040"/>
<circle cx="2905.4" cy="2638.8" r="10.3" fill="#404040"/>
<circle cx="2953.6" cy="2638.8" r="8.3" fill="#404040"/>
<circle cx="3001.9" cy="2638.8" r="8.3" fill="#404040"/>
<circle cx="3050.1" cy="2638.8" r="9.3" fill="#404040"/>
<circle cx="3098.4" cy="2638.8" r="6.5" fill="#404040"/>
<circle cx="3146.7" cy="2638.8" r="5.7" fill="#404040"/>
<circle cx="3194.9" cy="2638.8" r="10.3" fill="#404040"/>
<circle cx="3243.2" cy="2638.8" r="9.3" fill="#404040"/>
<circle cx="3291.4" cy="2638.8" r="8.3" fill="#404040"/>
<circle cx="2615.8" cy="2709.6" r="5.7" fill="#404040"/>
<circle cx="2664.1" cy="2709.6" r="7.3" fill="#404040"/>
<circle cx="2712.3" cy="2709.6" r="6.5" fill="#404040"/>
<circle cx="2760.6" cy="2709.6" r="7.3" fill="#404040"/>
<circle cx="2808.8" cy="2709.6" r="7.3" fill="#404040"/>
<circle cx="2857.1" cy="2709.6" r="5.7" fill="#404040"/>
<circle cx="2905.4" cy="2709.6" r="11.5" fill="#404040"/>
<circle cx="2953.6" cy="2709.6" r="8.3" fill="#404040"/>
<circle cx="3001.9" cy="2709.6" r="8.3" fill="#404040"/>
<circle cx="3050.1" cy="2709.6" r="10.3" fill="#404040"/>
<circle cx="3098.4" cy="2709.6" r="6.5" fill="#404040"/>
<circle cx="3146.7" cy="2709.6" r="6.5" fill="#404040"/>
<circle cx="3194.9" cy="2709.6" r="8.3" fill="#404040"/>
<circle cx="3243.2" cy="2709.6" r="7.3" fill="#404040"/>
<circle cx="3291.4" cy="2709.6" r="6.5" fill="#404040"/>
<rect x="3349.5" y="1463" width="731.0" height="1287" fill="none" stroke="#4a4a4a" stroke-width="3"/>
<rect x="3349.5" y="1377.8" width="731.0" height="85.20000000000005" fill="#F4896B" stroke="#333" stroke-width="3"/>
<text transform="translate(3723.0,1434.5) scale(0.965,1)" font-size="57.62" text-anchor="middle" font-weight="normal" fill="#1a1a1a">Umbilical Cord</text>
<circle cx="3372.2" cy="1505.5" r="6.5" fill="#404040"/>
<circle cx="3412.5" cy="1505.5" r="6.5" fill="#404040"/>
<circle cx="3452.8" cy="1505.5" r="6.5" fill="#404040"/>
<circle cx="3493.0" cy="1505.5" r="7.3" fill="#404040"/>
<circle cx="3533.3" cy="1505.5" r="6.5" fill="#404040"/>
<circle cx="3573.6" cy="1505.5" r="5.7" fill="#404040"/>
<circle cx="3613.9" cy="1505.5" r="7.3" fill="#404040"/>
<circle cx="3654.2" cy="1505.5" r="5.7" fill="#404040"/>
<circle cx="3694.4" cy="1505.5" r="8.3" fill="#404040"/>
<circle cx="3734.7" cy="1505.5" r="7.3" fill="#404040"/>
<circle cx="3775.0" cy="1505.5" r="7.3" fill="#404040"/>
<circle cx="3815.3" cy="1505.5" r="9.3" fill="#404040"/>
<circle cx="3855.6" cy="1505.5" r="7.3" fill="#404040"/>
<circle cx="3895.8" cy="1505.5" r="7.3" fill="#404040"/>
<circle cx="3936.1" cy="1505.5" r="8.3" fill="#404040"/>
<circle cx="3976.4" cy="1505.5" r="5.7" fill="#404040"/>
<circle cx="4016.7" cy="1505.5" r="6.5" fill="#404040"/>
<circle cx="4057.0" cy="1505.5" r="8.3" fill="#404040"/>
<circle cx="3372.2" cy="1576.3" r="7.3" fill="#404040"/>
<circle cx="3412.5" cy="1576.3" r="6.5" fill="#404040"/>
<circle cx="3452.8" cy="1576.3" r="6.5" fill="#404040"/>
<circle cx="3493.0" cy="1576.3" r="8.3" fill="#404040"/>
<circle cx="3533.3" cy="1576.3" r="6.5" fill="#404040"/>
<circle cx="3573.6" cy="1576.3" r="6.5" fill="#404040"/>
<circle cx="3613.9" cy="1576.3" r="7.3" fill="#404040"/>
<circle cx="3654.2" cy="1576.3" r="7.3" fill="#404040"/>
<circle cx="3694.4" cy="1576.3" r="6.5" fill="#404040"/>
<circle cx="3734.7" cy="1576.3" r="7.3" fill="#404040"/>
<circle cx="3775.0" cy="1576.3" r="5.7" fill="#404040"/>
<circle cx="3815.3" cy="1576.3" r="7.3" fill="#404040"/>
<circle cx="3855.6" cy="1576.3" r="5.7" fill="#404040"/>
<circle cx="3895.8" cy="1576.3" r="8.3" fill="#404040"/>
<circle cx="3936.1" cy="1576.3" r="7.3" fill="#404040"/>
<circle cx="4016.7" cy="1576.3" r="6.5" fill="#404040"/>
<circle cx="4057.0" cy="1576.3" r="6.5" fill="#404040"/>
<circle cx="3372.2" cy="1647.2" r="7.3" fill="#404040"/>
<circle cx="3412.5" cy="1647.2" r="7.3" fill="#404040"/>
<circle cx="3452.8" cy="1647.2" r="7.3" fill="#404040"/>
<circle cx="3493.0" cy="1647.2" r="8.3" fill="#404040"/>
<circle cx="3533.3" cy="1647.2" r="13.8" fill="#404040"/>
<circle cx="3573.6" cy="1647.2" r="6.5" fill="#404040"/>
<circle cx="3613.9" cy="1647.2" r="11.5" fill="#404040"/>
<circle cx="3654.2" cy="1647.2" r="7.3" fill="#404040"/>
<circle cx="3694.4" cy="1647.2" r="8.3" fill="#404040"/>
<circle cx="3734.7" cy="1647.2" r="10.3" fill="#404040"/>
<circle cx="3775.0" cy="1647.2" r="8.3" fill="#404040"/>
<circle cx="3815.3" cy="1647.2" r="11.5" fill="#404040"/>
<circle cx="3855.6" cy="1647.2" r="8.3" fill="#404040"/>
<circle cx="3895.8" cy="1647.2" r="10.3" fill="#404040"/>
<circle cx="3936.1" cy="1647.2" r="9.3" fill="#404040"/>
<circle cx="3976.4" cy="1647.2" r="8.3" fill="#404040"/>
<circle cx="4016.7" cy="1647.2" r="10.3" fill="#404040"/>
<circle cx="4057.0" cy="1647.2" r="9.3" fill="#404040"/>
<circle cx="3372.2" cy="1718.0" r="10.3" fill="#404040"/>
<circle cx="3412.5" cy="1718.0" r="7.3" fill="#404040"/>
<circle cx="3452.8" cy="1718.0" r="8.3" fill="#404040"/>
<circle cx="3493.0" cy="1718.0" r="7.3" fill="#404040"/>
<circle cx="3533.3" cy="1718.0" r="7.3" fill="#404040"/>
<circle cx="3613.9" cy="1718.0" r="6.5" fill="#404040"/>
<circle cx="3654.2" cy="1718.0" r="5.7" fill="#404040"/>
<circle cx="3694.4" cy="1718.0" r="8.3" fill="#404040"/>
<circle cx="3734.7" cy="1718.0" r="9.3" fill="#404040"/>
<circle cx="3775.0" cy="1718.0" r="8.3" fill="#404040"/>
<circle cx="3815.3" cy="1718.0" r="7.3" fill="#404040"/>
<circle cx="3855.6" cy="1718.0" r="7.3" fill="#404040"/>
<circle cx="3895.8" cy="1718.0" r="8.3" fill="#404040"/>
<circle cx="3936.1" cy="1718.0" r="9.3" fill="#404040"/>
<circle cx="3976.4" cy="1718.0" r="10.3" fill="#404040"/>
<circle cx="4016.7" cy="1718.0" r="9.3" fill="#404040"/>
<circle cx="4057.0" cy="1718.0" r="8.3" fill="#404040"/>
<circle cx="3372.2" cy="1788.8" r="7.3" fill="#404040"/>
<circle cx="3412.5" cy="1788.8" r="6.5" fill="#404040"/>
<circle cx="3452.8" cy="1788.8" r="6.5" fill="#404040"/>
<circle cx="3493.0" cy="1788.8" r="6.5" fill="#404040"/>
<circle cx="3533.3" cy="1788.8" r="8.3" fill="#404040"/>
<circle cx="3573.6" cy="1788.8" r="5.7" fill="#404040"/>
<circle cx="3613.9" cy="1788.8" r="11.5" fill="#404040"/>
<circle cx="3654.2" cy="1788.8" r="6.5" fill="#404040"/>
<circle cx="3694.4" cy="1788.8" r="7.3" fill="#404040"/>
<circle cx="3734.7" cy="1788.8" r="8.3" fill="#404040"/>
<circle cx="3775.0" cy="1788.8" r="6.5" fill="#404040"/>
<circle cx="3815.3" cy="1788.8" r="8.3" fill="#404040"/>
<circle cx="3855.6" cy="1788.8" r="6.5" fill="#404040"/>
<circle cx="3895.8" cy="1788.8" r="8.3" fill="#404040"/>
<circle cx="3936.1" cy="1788.8" r="8.3" fill="#404040"/>
<circle cx="3976.4" cy="1788.8" r="6.5" fill="#404040"/>
<circle cx="4016.7" cy="1788.8" r="8.3" fill="#404040"/>
<circle cx="4057.0" cy="1788.8" r="6.5" fill="#404040"/>
<circle cx="3372.2" cy="1859.7" r="7.3" fill="#404040"/>
<circle cx="3412.5" cy="1859.7" r="6.5" fill="#404040"/>
<circle cx="3452.8" cy="1859.7" r="6.5" fill="#404040"/>
<circle cx="3493.0" cy="1859.7" r="7.3" fill="#404040"/>
<circle cx="3533.3" cy="1859.7" r="8.3" fill="#404040"/>
<circle cx="3573.6" cy="1859.7" r="5.7" fill="#404040"/>
<circle cx="3613.9" cy="1859.7" r="7.3" fill="#404040"/>
<circle cx="3654.2" cy="1859.7" r="7.3" fill="#404040"/>
<circle cx="3694.4" cy="1859.7" r="6.5" fill="#404040"/>
<circle cx="3734.7" cy="1859.7" r="7.3" fill="#404040"/>
<circle cx="3775.0" cy="1859.7" r="5.7" fill="#404040"/>
<circle cx="3815.3" cy="1859.7" r="6.5" fill="#404040"/>
<circle cx="3855.6" cy="1859.7" r="5.7" fill="#404040"/>
<circle cx="3895.8" cy="1859.7" r="7.3" fill="#404040"/>
<circle cx="3936.1" cy="1859.7" r="7.3" fill="#404040"/>
<circle cx="3976.4" cy="1859.7" r="6.5" fill="#404040"/>
<circle cx="4016.7" cy="1859.7" r="9.3" fill="#404040"/>
<circle cx="4057.0" cy="1859.7" r="6.5" fill="#404040"/>
<circle cx="3372.2" cy="1930.5" r="8.3" fill="#404040"/>
<circle cx="3412.5" cy="1930.5" r="5.7" fill="#404040"/>
<circle cx="3452.8" cy="1930.5" r="5.7" fill="#404040"/>
<circle cx="3493.0" cy="1930.5" r="4.9" fill="#404040"/>
<circle cx="3533.3" cy="1930.5" r="4.9" fill="#404040"/>
<circle cx="3573.6" cy="1930.5" r="6.5" fill="#404040"/>
<circle cx="3613.9" cy="1930.5" r="4.9" fill="#404040"/>
<circle cx="3654.2" cy="1930.5" r="6.5" fill="#404040"/>
<circle cx="3694.4" cy="1930.5" r="4.9" fill="#404040"/>
<circle cx="3775.0" cy="1930.5" r="5.7" fill="#404040"/>
<circle cx="3815.3" cy="1930.5" r="6.5" fill="#404040"/>
<circle cx="3895.8" cy="1930.5" r="5.7" fill="#404040"/>
<circle cx="3936.1" cy="1930.5" r="6.5" fill="#404040"/>
<circle cx="3976.4" cy="1930.5" r="5.7" fill="#404040"/>
<circle cx="4016.7" cy="1930.5" r="5.7" fill="#404040"/>
<circle cx="3372.2" cy="2001.3" r="6.5" fill="#404040"/>
<circle cx="3452.8" cy="2001.3" r="6.5" fill="#404040"/>
<circle cx="3613.9" cy="2001.3" r="6.5" fill="#404040"/>
<circle cx="3734.7" cy="2001.3" r="8.3" fill="#404040"/>
<circle cx="3815.3" cy="2001.3" r="7.3" fill="#404040"/>
<circle cx="3936.1" cy="2001.3" r="6.5" fill="#404040"/>
<circle cx="4016.7" cy="2001.3" r="6.5" fill="#404040"/>
<circle cx="4057.0" cy="2001.3" r="5.7" fill="#404040"/>
<circle cx="3372.2" cy="2072.1" r="7.3" fill="#404040"/>
<circle cx="3412.5" cy="2072.1" r="6.5" fill="#404040"/>
<circle cx="3452.8" cy="2072.1" r="6.5" fill="#404040"/>
<circle cx="3493.0" cy="2072.1" r="7.3" fill="#404040"/>
<circle cx="3533.3" cy="2072.1" r="13.8" fill="#404040"/>
<circle cx="3573.6" cy="2072.1" r="5.7" fill="#404040"/>
<circle cx="3613.9" cy="2072.1" r="9.3" fill="#404040"/>
<circle cx="3654.2" cy="2072.1" r="7.3" fill="#404040"/>
<circle cx="3694.4" cy="2072.1" r="8.3" fill="#404040"/>
<circle cx="3734.7" cy="2072.1" r="8.3" fill="#404040"/>
<circle cx="3775.0" cy="2072.1" r="7.3" fill="#404040"/>
<circle cx="3815.3" cy="2072.1" r="8.3" fill="#404040"/>
<circle cx="3855.6" cy="2072.1" r="6.5" fill="#404040"/>
<circle cx="3895.8" cy="2072.1" r="9.3" fill="#404040"/>
<circle cx="3936.1" cy="2072.1" r="8.3" fill="#404040"/>
<circle cx="3976.4" cy="2072.1" r="7.3" fill="#404040"/>
<circle cx="4016.7" cy="2072.1" r="9.3" fill="#404040"/>
<circle cx="4057.0" cy="2072.1" r="7.3" fill="#404040"/>
<circle cx="3372.2" cy="2143.0" r="9.3" fill="#404040"/>
<circle cx="3412.5" cy="2143.0" r="6.5" fill="#404040"/>
<circle cx="3452.8" cy="2143.0" r="7.3" fill="#404040"/>
<circle cx="3493.0" cy="2143.0" r="8.3" fill="#404040"/>
<circle cx="3533.3" cy="2143.0" r="13.8" fill="#404040"/>
<circle cx="3613.9" cy="2143.0" r="10.3" fill="#404040"/>
<circle cx="3654.2" cy="2143.0" r="7.3" fill="#404040"/>
<circle cx="3694.4" cy="2143.0" r="8.3" fill="#404040"/>
<circle cx="3734.7" cy="2143.0" r="10.3" fill="#404040"/>
<circle cx="3775.0" cy="2143.0" r="8.3" fill="#404040"/>
<circle cx="3815.3" cy="2143.0" r="10.3" fill="#404040"/>
<circle cx="3855.6" cy="2143.0" r="8.3" fill="#404040"/>
<circle cx="3895.8" cy="2143.0" r="11.5" fill="#404040"/>
<circle cx="3936.1" cy="2143.0" r="12.6" fill="#404040"/>
<circle cx="3976.4" cy="2143.0" r="8.3" fill="#404040"/>
<circle cx="4016.7" cy="2143.0" r="10.3" fill="#404040"/>
<circle cx="4057.0" cy="2143.0" r="12.6" fill="#404040"/>
<circle cx="3372.2" cy="2213.8" r="5.7" fill="#404040"/>
<circle cx="3493.0" cy="2213.8" r="6.5" fill="#404040"/>
<circle cx="3533.3" cy="2213.8" r="7.3" fill="#404040"/>
<circle cx="3694.4" cy="2213.8" r="6.5" fill="#404040"/>
<circle cx="3734.7" cy="2213.8" r="5.7" fill="#404040"/>
<circle cx="3895.8" cy="2213.8" r="6.5" fill="#404040"/>
<circle cx="3936.1" cy="2213.8" r="6.5" fill="#404040"/>
<circle cx="3372.2" cy="2284.6" r="7.3" fill="#404040"/>
<circle cx="3412.5" cy="2284.6" r="5.7" fill="#404040"/>
<circle cx="3452.8" cy="2284.6" r="6.5" fill="#404040"/>
<circle cx="3493.0" cy="2284.6" r="7.3" fill="#404040"/>
<circle cx="3533.3" cy="2284.6" r="9.3" fill="#404040"/>
<circle cx="3613.9" cy="2284.6" r="6.5" fill="#404040"/>
<circle cx="3654.2" cy="2284.6" r="6.5" fill="#404040"/>
<circle cx="3694.4" cy="2284.6" r="7.3" fill="#404040"/>
<circle cx="3734.7" cy="2284.6" r="7.3" fill="#404040"/>
<circle cx="3775.0" cy="2284.6" r="6.5" fill="#404040"/>
<circle cx="3815.3" cy="2284.6" r="7.3" fill="#404040"/>
<circle cx="3855.6" cy="2284.6" r="6.5" fill="#404040"/>
<circle cx="3895.8" cy="2284.6" r="9.3" fill="#404040"/>
<circle cx="3936.1" cy="2284.6" r="9.3" fill="#404040"/>
<circle cx="3976.4" cy="2284.6" r="6.5" fill="#404040"/>
<circle cx="4016.7" cy="2284.6" r="7.3" fill="#404040"/>
<circle cx="4057.0" cy="2284.6" r="7.3" fill="#404040"/>
<circle cx="3372.2" cy="2355.5" r="6.5" fill="#404040"/>
<circle cx="3412.5" cy="2355.5" r="5.7" fill="#404040"/>
<circle cx="3452.8" cy="2355.5" r="6.5" fill="#404040"/>
<circle cx="3493.0" cy="2355.5" r="6.5" fill="#404040"/>
<circle cx="3573.6" cy="2355.5" r="5.7" fill="#404040"/>
<circle cx="3734.7" cy="2355.5" r="5.7" fill="#404040"/>
<circle cx="3775.0" cy="2355.5" r="7.3" fill="#404040"/>
<circle cx="3815.3" cy="2355.5" r="6.5" fill="#404040"/>
<circle cx="3855.6" cy="2355.5" r="5.7" fill="#404040"/>
<circle cx="3895.8" cy="2355.5" r="6.5" fill="#404040"/>
<circle cx="3936.1" cy="2355.5" r="6.5" fill="#404040"/>
<circle cx="3976.4" cy="2355.5" r="5.7" fill="#404040"/>
<circle cx="4057.0" cy="2355.5" r="6.5" fill="#404040"/>
<circle cx="3372.2" cy="2426.3" r="8.3" fill="#404040"/>
<circle cx="3412.5" cy="2426.3" r="7.3" fill="#404040"/>
<circle cx="3452.8" cy="2426.3" r="6.5" fill="#404040"/>
<circle cx="3493.0" cy="2426.3" r="5.7" fill="#404040"/>
<circle cx="3533.3" cy="2426.3" r="6.5" fill="#404040"/>
<circle cx="3775.0" cy="2426.3" r="6.5" fill="#404040"/>
<circle cx="3815.3" cy="2426.3" r="6.5" fill="#404040"/>
<circle cx="3855.6" cy="2426.3" r="7.3" fill="#404040"/>
<circle cx="3895.8" cy="2426.3" r="9.3" fill="#404040"/>
<circle cx="3936.1" cy="2426.3" r="10.3" fill="#404040"/>
<circle cx="3976.4" cy="2426.3" r="5.7" fill="#404040"/>
<circle cx="4016.7" cy="2426.3" r="7.3" fill="#404040"/>
<circle cx="4057.0" cy="2426.3" r="6.5" fill="#404040"/>
<circle cx="3372.2" cy="2497.1" r="6.5" fill="#404040"/>
<circle cx="3412.5" cy="2497.1" r="5.7" fill="#404040"/>
<circle cx="3493.0" cy="2497.1" r="5.7" fill="#404040"/>
<circle cx="3533.3" cy="2497.1" r="6.5" fill="#404040"/>
<circle cx="3654.2" cy="2497.1" r="6.5" fill="#404040"/>
<circle cx="3734.7" cy="2497.1" r="6.5" fill="#404040"/>
<circle cx="3815.3" cy="2497.1" r="6.5" fill="#404040"/>
<circle cx="3855.6" cy="2497.1" r="5.7" fill="#404040"/>
<circle cx="3895.8" cy="2497.1" r="6.5" fill="#404040"/>
<circle cx="3936.1" cy="2497.1" r="6.5" fill="#404040"/>
<circle cx="4016.7" cy="2497.1" r="6.5" fill="#404040"/>
<circle cx="4057.0" cy="2497.1" r="5.7" fill="#404040"/>
<circle cx="3372.2" cy="2567.9" r="8.3" fill="#404040"/>
<circle cx="3412.5" cy="2567.9" r="7.3" fill="#404040"/>
<circle cx="3452.8" cy="2567.9" r="6.5" fill="#404040"/>
<circle cx="3493.0" cy="2567.9" r="6.5" fill="#404040"/>
<circle cx="3533.3" cy="2567.9" r="9.3" fill="#404040"/>
<circle cx="3573.6" cy="2567.9" r="5.7" fill="#404040"/>
<circle cx="3613.9" cy="2567.9" r="6.5" fill="#404040"/>
<circle cx="3654.2" cy="2567.9" r="7.3" fill="#404040"/>
<circle cx="3694.4" cy="2567.9" r="6.5" fill="#404040"/>
<circle cx="3734.7" cy="2567.9" r="7.3" fill="#404040"/>
<circle cx="3775.0" cy="2567.9" r="5.7" fill="#404040"/>
<circle cx="3815.3" cy="2567.9" r="7.3" fill="#404040"/>
<circle cx="3855.6" cy="2567.9" r="7.3" fill="#404040"/>
<circle cx="3895.8" cy="2567.9" r="9.3" fill="#404040"/>
<circle cx="3936.1" cy="2567.9" r="10.3" fill="#404040"/>
<circle cx="3976.4" cy="2567.9" r="7.3" fill="#404040"/>
<circle cx="4016.7" cy="2567.9" r="9.3" fill="#404040"/>
<circle cx="4057.0" cy="2567.9" r="7.3" fill="#404040"/>
<circle cx="3372.2" cy="2638.8" r="7.3" fill="#404040"/>
<circle cx="3412.5" cy="2638.8" r="7.3" fill="#404040"/>
<circle cx="3452.8" cy="2638.8" r="7.3" fill="#404040"/>
<circle cx="3493.0" cy="2638.8" r="8.3" fill="#404040"/>
<circle cx="3533.3" cy="2638.8" r="7.3" fill="#404040"/>
<circle cx="3573.6" cy="2638.8" r="5.7" fill="#404040"/>
<circle cx="3613.9" cy="2638.8" r="8.3" fill="#404040"/>
<circle cx="3654.2" cy="2638.8" r="7.3" fill="#404040"/>
<circle cx="3694.4" cy="2638.8" r="8.3" fill="#404040"/>
<circle cx="3734.7" cy="2638.8" r="8.3" fill="#404040"/>
<circle cx="3775.0" cy="2638.8" r="7.3" fill="#404040"/>
<circle cx="3815.3" cy="2638.8" r="8.3" fill="#404040"/>
<circle cx="3855.6" cy="2638.8" r="7.3" fill="#404040"/>
<circle cx="3895.8" cy="2638.8" r="9.3" fill="#404040"/>
<circle cx="3936.1" cy="2638.8" r="8.3" fill="#404040"/>
<circle cx="3976.4" cy="2638.8" r="5.7" fill="#404040"/>
<circle cx="4016.7" cy="2638.8" r="9.3" fill="#404040"/>
<circle cx="4057.0" cy="2638.8" r="8.3" fill="#404040"/>
<circle cx="3372.2" cy="2709.6" r="8.3" fill="#404040"/>
<circle cx="3412.5" cy="2709.6" r="7.3" fill="#404040"/>
<circle cx="3452.8" cy="2709.6" r="7.3" fill="#404040"/>
<circle cx="3493.0" cy="2709.6" r="9.3" fill="#404040"/>
<circle cx="3533.3" cy="2709.6" r="7.3" fill="#404040"/>
<circle cx="3573.6" cy="2709.6" r="8.3" fill="#404040"/>
<circle cx="3613.9" cy="2709.6" r="8.3" fill="#404040"/>
<circle cx="3654.2" cy="2709.6" r="6.5" fill="#404040"/>
<circle cx="3694.4" cy="2709.6" r="10.3" fill="#404040"/>
<circle cx="3734.7" cy="2709.6" r="8.3" fill="#404040"/>
<circle cx="3775.0" cy="2709.6" r="9.3" fill="#404040"/>
<circle cx="3815.3" cy="2709.6" r="12.6" fill="#404040"/>
<circle cx="3855.6" cy="2709.6" r="9.3" fill="#404040"/>
<circle cx="3895.8" cy="2709.6" r="8.3" fill="#404040"/>
<circle cx="3936.1" cy="2709.6" r="9.3" fill="#404040"/>
<circle cx="3976.4" cy="2709.6" r="8.3" fill="#404040"/>
<circle cx="4016.7" cy="2709.6" r="9.3" fill="#404040"/>
<circle cx="4057.0" cy="2709.6" r="10.3" fill="#404040"/>
<line x1="1813" y1="1505.5" x2="1827.5" y2="1505.5" stroke="#333" stroke-width="4"/>
<text transform="translate(1795.0,1521.2) scale(0.965,1)" font-size="52.64" text-anchor="end" font-weight="normal" fill="#1a1a1a">Wautersiella</text>
<line x1="1813" y1="1576.3" x2="1827.5" y2="1576.3" stroke="#333" stroke-width="4"/>
<text transform="translate(1795.0,1592.0) scale(0.965,1)" font-size="52.64" text-anchor="end" font-weight="normal" fill="#1a1a1a">Streptococcus</text>
<line x1="1813" y1="1647.2" x2="1827.5" y2="1647.2" stroke="#333" stroke-width="4"/>
<text transform="translate(1795.0,1662.9) scale(0.965,1)" font-size="52.64" text-anchor="end" font-weight="normal" fill="#1a1a1a">Stenotrophomonas</text>
<line x1="1813" y1="1718.0" x2="1827.5" y2="1718.0" stroke="#333" stroke-width="4"/>
<text transform="translate(1795.0,1733.7) scale(0.965,1)" font-size="52.64" text-anchor="end" font-weight="normal" fill="#1a1a1a">Staphylococcus</text>
<line x1="1813" y1="1788.8" x2="1827.5" y2="1788.8" stroke="#333" stroke-width="4"/>
<text transform="translate(1795.0,1804.5) scale(0.965,1)" font-size="52.64" text-anchor="end" font-weight="normal" fill="#1a1a1a">Sphingomonas</text>
<line x1="1813" y1="1859.7" x2="1827.5" y2="1859.7" stroke="#333" stroke-width="4"/>
<text transform="translate(1795.0,1875.4) scale(0.965,1)" font-size="52.64" text-anchor="end" font-weight="normal" fill="#1a1a1a">Sanguibacter</text>
<line x1="1813" y1="1930.5" x2="1827.5" y2="1930.5" stroke="#333" stroke-width="4"/>
<text transform="translate(1795.0,1946.2) scale(0.965,1)" font-size="52.64" text-anchor="end" font-weight="normal" fill="#1a1a1a">Ruminococcus</text>
<line x1="1813" y1="2001.3" x2="1827.5" y2="2001.3" stroke="#333" stroke-width="4"/>
<text transform="translate(1795.0,2017.0) scale(0.965,1)" font-size="52.64" text-anchor="end" font-weight="normal" fill="#1a1a1a">Psychrobacter</text>
<line x1="1813" y1="2072.1" x2="1827.5" y2="2072.1" stroke="#333" stroke-width="4"/>
<text transform="translate(1795.0,2087.8) scale(0.965,1)" font-size="52.64" text-anchor="end" font-weight="normal" fill="#1a1a1a">Pedobacter</text>
<line x1="1813" y1="2143.0" x2="1827.5" y2="2143.0" stroke="#333" stroke-width="4"/>
<text transform="translate(1785.5,2158.7) scale(0.965,1)" font-size="52.64" text-anchor="end" font-weight="normal" fill="#1a1a1a">Microbacteriaceae</text>
<line x1="1813" y1="2213.8" x2="1827.5" y2="2213.8" stroke="#333" stroke-width="4"/>
<text transform="translate(1785.5,2229.5) scale(0.965,1)" font-size="52.64" text-anchor="end" font-weight="normal" fill="#1a1a1a">Janthinobacterium</text>
<line x1="1813" y1="2284.6" x2="1827.5" y2="2284.6" stroke="#333" stroke-width="4"/>
<text transform="translate(1795.0,2300.3) scale(0.965,1)" font-size="52.64" text-anchor="end" font-weight="normal" fill="#1a1a1a">Frigoribacterium</text>
<line x1="1813" y1="2355.5" x2="1827.5" y2="2355.5" stroke="#333" stroke-width="4"/>
<text transform="translate(1795.0,2371.2) scale(0.965,1)" font-size="52.64" text-anchor="end" font-weight="normal" fill="#1a1a1a">Facklamia</text>
<line x1="1813" y1="2426.3" x2="1827.5" y2="2426.3" stroke="#333" stroke-width="4"/>
<text transform="translate(1795.0,2442.0) scale(0.965,1)" font-size="52.64" text-anchor="end" font-weight="normal" fill="#1a1a1a">Erwinia</text>
<line x1="1813" y1="2497.1" x2="1827.5" y2="2497.1" stroke="#333" stroke-width="4"/>
<text transform="translate(1795.0,2512.8) scale(0.965,1)" font-size="52.64" text-anchor="end" font-weight="normal" fill="#1a1a1a">Enterococcus</text>
<line x1="1813" y1="2567.9" x2="1827.5" y2="2567.9" stroke="#333" stroke-width="4"/>
<text transform="translate(1795.0,2583.6) scale(0.965,1)" font-size="52.64" text-anchor="end" font-weight="normal" fill="#1a1a1a">Enterobacteriaceae</text>
<line x1="1813" y1="2638.8" x2="1827.5" y2="2638.8" stroke="#333" stroke-width="4"/>
<text transform="translate(1795.0,2654.5) scale(0.965,1)" font-size="52.64" text-anchor="end" font-weight="normal" fill="#1a1a1a">Comamonas</text>
<line x1="1813" y1="2709.6" x2="1827.5" y2="2709.6" stroke="#333" stroke-width="4"/>
<text transform="translate(1795.0,2725.3) scale(0.965,1)" font-size="52.64" text-anchor="end" font-weight="normal" fill="#1a1a1a">Acinetobacter</text>
<text transform="translate(4119.5,1539.0) scale(0.95,1)" font-size="60.00" text-anchor="start" font-weight="bold" fill="#000">Counts</text>
<circle cx="4141.6" cy="1616.4" r="7.2" fill="#404040"/>
<text transform="translate(4172.0,1632.4) scale(0.965,1)" font-size="46.22" text-anchor="start" font-weight="normal" fill="#1a1a1a">500</text>
<circle cx="4141.6" cy="1703.1" r="8.6" fill="#404040"/>
<text transform="translate(4172.0,1719.1) scale(0.965,1)" font-size="46.22" text-anchor="start" font-weight="normal" fill="#1a1a1a">1500</text>
<circle cx="4141.6" cy="1789.8" r="9.8" fill="#404040"/>
<text transform="translate(4172.0,1805.8) scale(0.965,1)" font-size="46.22" text-anchor="start" font-weight="normal" fill="#1a1a1a">2500</text>
<circle cx="4141.6" cy="1876.5" r="10.8" fill="#404040"/>
<text transform="translate(4172.0,1892.5) scale(0.965,1)" font-size="46.22" text-anchor="start" font-weight="normal" fill="#1a1a1a">3500</text>
<circle cx="4141.6" cy="1963.2" r="11.8" fill="#404040"/>
<text transform="translate(4172.0,1979.2) scale(0.965,1)" font-size="46.22" text-anchor="start" font-weight="normal" fill="#1a1a1a">4500</text>
<circle cx="4141.6" cy="2049.9" r="12.8" fill="#404040"/>
<text transform="translate(4172.0,2065.9) scale(0.965,1)" font-size="46.22" text-anchor="start" font-weight="normal" fill="#1a1a1a">5500</text>
<circle cx="4141.6" cy="2136.6" r="13.8" fill="#404040"/>
<text transform="translate(4172.0,2152.6) scale(0.965,1)" font-size="46.22" text-anchor="start" font-weight="normal" fill="#1a1a1a">6500</text>
</svg>
</body></html>
